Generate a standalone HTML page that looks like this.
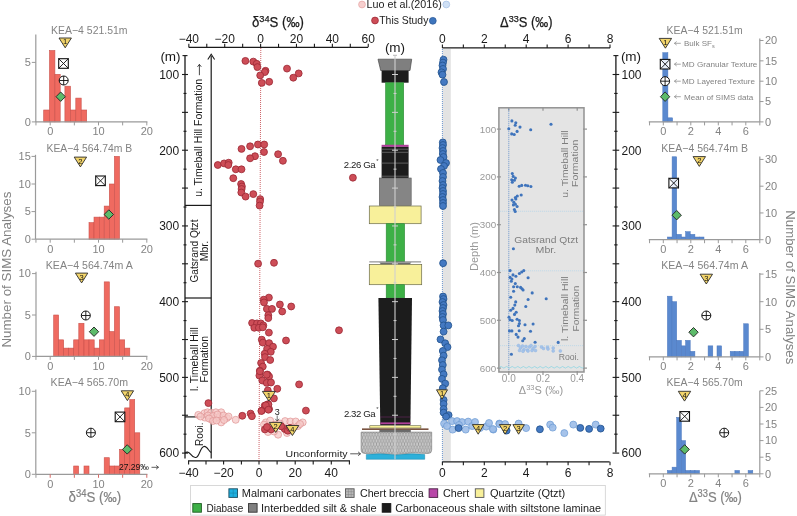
<!DOCTYPE html>
<html><head><meta charset="utf-8"><style>
html,body{margin:0;padding:0;background:#fff;}
svg{display:block;font-family:"Liberation Sans", sans-serif;will-change:transform;}
</style></head><body>
<svg width="797" height="516" viewBox="0 0 797 516">
<rect width="797" height="516" fill="#fff"/>
<rect x="43.70" y="110.00" width="5.80" height="11.90" fill="#EF6A60" stroke="#C9524C" stroke-width="0.6"/>
<rect x="49.50" y="50.50" width="5.40" height="71.40" fill="#EF6A60" stroke="#C9524C" stroke-width="0.6"/>
<rect x="54.90" y="74.30" width="5.30" height="47.60" fill="#EF6A60" stroke="#C9524C" stroke-width="0.6"/>
<rect x="64.90" y="86.20" width="5.60" height="35.70" fill="#EF6A60" stroke="#C9524C" stroke-width="0.6"/>
<rect x="70.50" y="110.00" width="5.30" height="11.90" fill="#EF6A60" stroke="#C9524C" stroke-width="0.6"/>
<rect x="75.80" y="98.10" width="5.40" height="23.80" fill="#EF6A60" stroke="#C9524C" stroke-width="0.6"/>
<rect x="81.20" y="110.00" width="5.50" height="11.90" fill="#EF6A60" stroke="#C9524C" stroke-width="0.6"/>
<line x1="35.8" y1="34.4" x2="35.8" y2="121.9" stroke="#9a9a9a" stroke-width="1.2"/>
<line x1="35.8" y1="121.9" x2="147.4" y2="121.9" stroke="#9a9a9a" stroke-width="1.2"/>
<line x1="31.799999999999997" y1="121.9" x2="35.8" y2="121.9" stroke="#9a9a9a" stroke-width="1"/>
<text x="30.8" y="125.7" font-size="11" text-anchor="end" fill="#838383">0</text>
<line x1="31.799999999999997" y1="62.400000000000006" x2="35.8" y2="62.400000000000006" stroke="#9a9a9a" stroke-width="1"/>
<text x="30.8" y="66.2" font-size="11" text-anchor="end" fill="#838383">5</text>
<line x1="35.9515" y1="121.9" x2="35.9515" y2="125.4" stroke="#9a9a9a" stroke-width="1"/>
<line x1="50.2" y1="121.9" x2="50.2" y2="125.4" stroke="#9a9a9a" stroke-width="1"/>
<line x1="74.35" y1="121.9" x2="74.35" y2="125.4" stroke="#9a9a9a" stroke-width="1"/>
<line x1="98.5" y1="121.9" x2="98.5" y2="125.4" stroke="#9a9a9a" stroke-width="1"/>
<line x1="122.65" y1="121.9" x2="122.65" y2="125.4" stroke="#9a9a9a" stroke-width="1"/>
<line x1="146.8" y1="121.9" x2="146.8" y2="125.4" stroke="#9a9a9a" stroke-width="1"/>
<text x="50.2" y="135.4" font-size="11" text-anchor="middle" fill="#838383">0</text>
<text x="98.5" y="135.4" font-size="11" text-anchor="middle" fill="#838383">10</text>
<text x="146.8" y="135.4" font-size="11" text-anchor="middle" fill="#838383">20</text>
<text x="89.3" y="34.3" font-size="10.8" text-anchor="middle" fill="#838383" textLength="76.5" lengthAdjust="spacingAndGlyphs">KEA&#8722;4 521.51m</text>
<polygon points="59.0,38.0 71.4,38.0 65.2,47.8" fill="#F3D56B" stroke="#2a2a2a" stroke-width="0.9" stroke-linejoin="miter"/>
<text x="65.2" y="44.468" font-size="7.6" text-anchor="middle" fill="#111">1</text>
<rect x="58.7" y="58.7" width="9.6" height="9.6" fill="#fff" fill-opacity="0.85" stroke="#111" stroke-width="1.1"/>
<path d="M58.7 58.7L68.3 68.3M68.3 58.7L58.7 68.3" stroke="#111" stroke-width="0.9"/>
<circle cx="63.7" cy="80.5" r="4.5" fill="#fff" stroke="#111" stroke-width="1"/>
<path d="M59.2 80.5H68.2M63.7 76.0V85.0" stroke="#111" stroke-width="0.9"/>
<polygon points="60.7,92.0 65.4,96.7 60.7,101.4 56.0,96.7" fill="#5DBB6A" stroke="#222" stroke-width="0.9"/>
<rect x="89.00" y="222.64" width="5.00" height="16.56" fill="#EF6A60" stroke="#C9524C" stroke-width="0.6"/>
<rect x="94.00" y="217.12" width="5.30" height="22.08" fill="#EF6A60" stroke="#C9524C" stroke-width="0.6"/>
<rect x="99.30" y="217.12" width="4.90" height="22.08" fill="#EF6A60" stroke="#C9524C" stroke-width="0.6"/>
<rect x="104.20" y="206.08" width="5.10" height="33.12" fill="#EF6A60" stroke="#C9524C" stroke-width="0.6"/>
<rect x="109.30" y="184.00" width="5.10" height="55.20" fill="#EF6A60" stroke="#C9524C" stroke-width="0.6"/>
<rect x="114.40" y="156.40" width="5.10" height="82.80" fill="#EF6A60" stroke="#C9524C" stroke-width="0.6"/>
<line x1="35.5" y1="154.8" x2="35.5" y2="239.2" stroke="#9a9a9a" stroke-width="1.2"/>
<line x1="35.5" y1="239.2" x2="147.4" y2="239.2" stroke="#9a9a9a" stroke-width="1.2"/>
<line x1="31.5" y1="239.2" x2="35.5" y2="239.2" stroke="#9a9a9a" stroke-width="1"/>
<text x="30.8" y="243.0" font-size="11" text-anchor="end" fill="#838383">0</text>
<line x1="31.5" y1="211.6" x2="35.5" y2="211.6" stroke="#9a9a9a" stroke-width="1"/>
<text x="30.8" y="215.4" font-size="11" text-anchor="end" fill="#838383">5</text>
<line x1="31.5" y1="184.0" x2="35.5" y2="184.0" stroke="#9a9a9a" stroke-width="1"/>
<text x="30.8" y="187.8" font-size="11" text-anchor="end" fill="#838383">10</text>
<line x1="31.5" y1="156.39999999999998" x2="35.5" y2="156.39999999999998" stroke="#9a9a9a" stroke-width="1"/>
<text x="30.8" y="160.2" font-size="11" text-anchor="end" fill="#838383">15</text>
<line x1="35.9515" y1="239.2" x2="35.9515" y2="242.7" stroke="#9a9a9a" stroke-width="1"/>
<line x1="50.2" y1="239.2" x2="50.2" y2="242.7" stroke="#9a9a9a" stroke-width="1"/>
<line x1="74.35" y1="239.2" x2="74.35" y2="242.7" stroke="#9a9a9a" stroke-width="1"/>
<line x1="98.5" y1="239.2" x2="98.5" y2="242.7" stroke="#9a9a9a" stroke-width="1"/>
<line x1="122.65" y1="239.2" x2="122.65" y2="242.7" stroke="#9a9a9a" stroke-width="1"/>
<line x1="146.8" y1="239.2" x2="146.8" y2="242.7" stroke="#9a9a9a" stroke-width="1"/>
<text x="50.2" y="252.7" font-size="11" text-anchor="middle" fill="#838383">0</text>
<text x="98.5" y="252.7" font-size="11" text-anchor="middle" fill="#838383">10</text>
<text x="146.8" y="252.7" font-size="11" text-anchor="middle" fill="#838383">20</text>
<text x="89.3" y="151.60000000000002" font-size="10.8" text-anchor="middle" fill="#838383" textLength="85.6" lengthAdjust="spacingAndGlyphs">KEA&#8722;4 564.74m B</text>
<polygon points="74.2,157.1 86.6,157.1 80.4,166.9" fill="#F3D56B" stroke="#2a2a2a" stroke-width="0.9" stroke-linejoin="miter"/>
<text x="80.4" y="163.56799999999998" font-size="7.6" text-anchor="middle" fill="#111">2</text>
<rect x="95.7" y="176.0" width="9.6" height="9.6" fill="#fff" fill-opacity="0.85" stroke="#111" stroke-width="1.1"/>
<path d="M95.7 176.0L105.3 185.6M105.3 176.0L95.7 185.6" stroke="#111" stroke-width="0.9"/>
<polygon points="108.8,209.8 113.5,214.5 108.8,219.2 104.1,214.5" fill="#5DBB6A" stroke="#222" stroke-width="0.9"/>
<rect x="53.70" y="315.00" width="4.90" height="41.40" fill="#EF6A60" stroke="#C9524C" stroke-width="0.6"/>
<rect x="58.60" y="339.84" width="5.10" height="16.56" fill="#EF6A60" stroke="#C9524C" stroke-width="0.6"/>
<rect x="63.70" y="348.12" width="4.90" height="8.28" fill="#EF6A60" stroke="#C9524C" stroke-width="0.6"/>
<rect x="68.60" y="348.12" width="5.10" height="8.28" fill="#EF6A60" stroke="#C9524C" stroke-width="0.6"/>
<rect x="73.70" y="339.84" width="5.10" height="16.56" fill="#EF6A60" stroke="#C9524C" stroke-width="0.6"/>
<rect x="78.80" y="323.28" width="5.20" height="33.12" fill="#EF6A60" stroke="#C9524C" stroke-width="0.6"/>
<rect x="84.00" y="339.84" width="5.00" height="16.56" fill="#EF6A60" stroke="#C9524C" stroke-width="0.6"/>
<rect x="89.00" y="339.84" width="5.20" height="16.56" fill="#EF6A60" stroke="#C9524C" stroke-width="0.6"/>
<rect x="94.20" y="348.12" width="5.10" height="8.28" fill="#EF6A60" stroke="#C9524C" stroke-width="0.6"/>
<rect x="99.30" y="339.84" width="4.90" height="16.56" fill="#EF6A60" stroke="#C9524C" stroke-width="0.6"/>
<rect x="104.20" y="281.88" width="5.10" height="74.52" fill="#EF6A60" stroke="#C9524C" stroke-width="0.6"/>
<rect x="109.30" y="331.56" width="5.10" height="24.84" fill="#EF6A60" stroke="#C9524C" stroke-width="0.6"/>
<rect x="114.40" y="306.72" width="5.10" height="49.68" fill="#EF6A60" stroke="#C9524C" stroke-width="0.6"/>
<rect x="119.50" y="339.84" width="5.20" height="16.56" fill="#EF6A60" stroke="#C9524C" stroke-width="0.6"/>
<rect x="124.70" y="348.12" width="5.10" height="8.28" fill="#EF6A60" stroke="#C9524C" stroke-width="0.6"/>
<line x1="36.0" y1="271.7" x2="36.0" y2="356.4" stroke="#9a9a9a" stroke-width="1.2"/>
<line x1="36.0" y1="356.4" x2="147.4" y2="356.4" stroke="#9a9a9a" stroke-width="1.2"/>
<line x1="32.0" y1="356.4" x2="36.0" y2="356.4" stroke="#9a9a9a" stroke-width="1"/>
<text x="30.8" y="360.2" font-size="11" text-anchor="end" fill="#838383">0</text>
<line x1="32.0" y1="315.0" x2="36.0" y2="315.0" stroke="#9a9a9a" stroke-width="1"/>
<text x="30.8" y="318.8" font-size="11" text-anchor="end" fill="#838383">5</text>
<line x1="32.0" y1="273.59999999999997" x2="36.0" y2="273.59999999999997" stroke="#9a9a9a" stroke-width="1"/>
<text x="30.8" y="277.4" font-size="11" text-anchor="end" fill="#838383">10</text>
<line x1="35.9515" y1="356.4" x2="35.9515" y2="359.9" stroke="#9a9a9a" stroke-width="1"/>
<line x1="50.2" y1="356.4" x2="50.2" y2="359.9" stroke="#9a9a9a" stroke-width="1"/>
<line x1="74.35" y1="356.4" x2="74.35" y2="359.9" stroke="#9a9a9a" stroke-width="1"/>
<line x1="98.5" y1="356.4" x2="98.5" y2="359.9" stroke="#9a9a9a" stroke-width="1"/>
<line x1="122.65" y1="356.4" x2="122.65" y2="359.9" stroke="#9a9a9a" stroke-width="1"/>
<line x1="146.8" y1="356.4" x2="146.8" y2="359.9" stroke="#9a9a9a" stroke-width="1"/>
<text x="50.2" y="369.9" font-size="11" text-anchor="middle" fill="#838383">0</text>
<text x="98.5" y="369.9" font-size="11" text-anchor="middle" fill="#838383">10</text>
<text x="146.8" y="369.9" font-size="11" text-anchor="middle" fill="#838383">20</text>
<text x="89.3" y="269.3" font-size="10.8" text-anchor="middle" fill="#838383" textLength="87" lengthAdjust="spacingAndGlyphs">KEA&#8722;4 564.74m A</text>
<polygon points="75.4,273.1 87.8,273.1 81.6,282.9" fill="#F3D56B" stroke="#2a2a2a" stroke-width="0.9" stroke-linejoin="miter"/>
<text x="81.6" y="279.56800000000004" font-size="7.6" text-anchor="middle" fill="#111">3</text>
<circle cx="85.8" cy="315.5" r="4.5" fill="#fff" stroke="#111" stroke-width="1"/>
<path d="M81.3 315.5H90.3M85.8 311.0V320.0" stroke="#111" stroke-width="0.9"/>
<polygon points="94.0,327.0 98.7,331.7 94.0,336.4 89.3,331.7" fill="#5DBB6A" stroke="#222" stroke-width="0.9"/>
<rect x="73.70" y="466.00" width="4.90" height="8.30" fill="#EF6A60" stroke="#C9524C" stroke-width="0.6"/>
<rect x="84.00" y="466.00" width="5.00" height="8.30" fill="#EF6A60" stroke="#C9524C" stroke-width="0.6"/>
<rect x="104.20" y="457.70" width="5.10" height="16.60" fill="#EF6A60" stroke="#C9524C" stroke-width="0.6"/>
<rect x="109.30" y="466.00" width="5.10" height="8.30" fill="#EF6A60" stroke="#C9524C" stroke-width="0.6"/>
<rect x="114.40" y="466.00" width="5.10" height="8.30" fill="#EF6A60" stroke="#C9524C" stroke-width="0.6"/>
<rect x="119.50" y="449.40" width="5.20" height="24.90" fill="#EF6A60" stroke="#C9524C" stroke-width="0.6"/>
<rect x="124.70" y="407.90" width="5.10" height="66.40" fill="#EF6A60" stroke="#C9524C" stroke-width="0.6"/>
<rect x="129.80" y="399.60" width="4.90" height="74.70" fill="#EF6A60" stroke="#C9524C" stroke-width="0.6"/>
<rect x="134.70" y="432.80" width="5.10" height="41.50" fill="#EF6A60" stroke="#C9524C" stroke-width="0.6"/>
<line x1="35.8" y1="389.4" x2="35.8" y2="474.3" stroke="#9a9a9a" stroke-width="1.2"/>
<line x1="35.8" y1="474.3" x2="147.4" y2="474.3" stroke="#9a9a9a" stroke-width="1.2"/>
<line x1="31.799999999999997" y1="474.3" x2="35.8" y2="474.3" stroke="#9a9a9a" stroke-width="1"/>
<text x="30.8" y="478.1" font-size="11" text-anchor="end" fill="#838383">0</text>
<line x1="31.799999999999997" y1="432.8" x2="35.8" y2="432.8" stroke="#9a9a9a" stroke-width="1"/>
<text x="30.8" y="436.6" font-size="11" text-anchor="end" fill="#838383">5</text>
<line x1="31.799999999999997" y1="391.3" x2="35.8" y2="391.3" stroke="#9a9a9a" stroke-width="1"/>
<text x="30.8" y="395.1" font-size="11" text-anchor="end" fill="#838383">10</text>
<line x1="35.9515" y1="474.3" x2="35.9515" y2="477.8" stroke="#9a9a9a" stroke-width="1"/>
<line x1="50.2" y1="474.3" x2="50.2" y2="477.8" stroke="#D86A66" stroke-width="1"/>
<line x1="74.35" y1="474.3" x2="74.35" y2="477.8" stroke="#D86A66" stroke-width="1"/>
<line x1="98.5" y1="474.3" x2="98.5" y2="477.8" stroke="#D86A66" stroke-width="1"/>
<line x1="122.65" y1="474.3" x2="122.65" y2="477.8" stroke="#D86A66" stroke-width="1"/>
<line x1="146.8" y1="474.3" x2="146.8" y2="477.8" stroke="#D86A66" stroke-width="1"/>
<text x="50.2" y="487.8" font-size="11" text-anchor="middle" fill="#838383">0</text>
<text x="98.5" y="487.8" font-size="11" text-anchor="middle" fill="#838383">10</text>
<text x="146.8" y="487.8" font-size="11" text-anchor="middle" fill="#838383">20</text>
<text x="89.3" y="386.2" font-size="10.8" text-anchor="middle" fill="#838383" textLength="77.4" lengthAdjust="spacingAndGlyphs">KEA&#8722;4 565.70m</text>
<polygon points="121.2,390.8 133.6,390.8 127.4,400.6" fill="#F3D56B" stroke="#2a2a2a" stroke-width="0.9" stroke-linejoin="miter"/>
<text x="127.4" y="397.26800000000003" font-size="7.6" text-anchor="middle" fill="#111">4</text>
<rect x="115.2" y="412.1" width="9.6" height="9.6" fill="#fff" fill-opacity="0.85" stroke="#111" stroke-width="1.1"/>
<path d="M115.2 412.1L124.8 421.7M124.8 412.1L115.2 421.7" stroke="#111" stroke-width="0.9"/>
<circle cx="90.9" cy="432.7" r="4.5" fill="#fff" stroke="#111" stroke-width="1"/>
<path d="M86.4 432.7H95.4M90.9 428.2V437.2" stroke="#111" stroke-width="0.9"/>
<polygon points="127.2,444.7 131.9,449.4 127.2,454.1 122.5,449.4" fill="#5DBB6A" stroke="#222" stroke-width="0.9"/>
<text x="118.9" y="470.3" font-size="8.6" text-anchor="start" fill="#111" textLength="30" lengthAdjust="spacingAndGlyphs">27.29&#8240;</text>
<path d="M151.5 467.3L158.5 467.3M156.1 465.4L158.5 467.3L156.1 469.2" fill="none" stroke="#333" stroke-width="0.8"/>
<text x="11.2" y="269.6" font-size="12.8" text-anchor="middle" fill="#838383" transform="rotate(-90 11.2 269.6)" textLength="156" lengthAdjust="spacingAndGlyphs">Number of SIMS Analyses</text>
<text x="94.8" y="502.3" font-size="14" text-anchor="middle" fill="#838383" textLength="52.5" lengthAdjust="spacingAndGlyphs" stroke="#838383" stroke-width="0.2">&#948;<tspan dy="-5" font-size="10">34</tspan><tspan dy="5">S (&#8240;)</tspan></text>
<line x1="188.7" y1="47.3" x2="368.0" y2="47.3" stroke="#1a1a1a" stroke-width="1.3"/>
<line x1="188.84000000000003" y1="47.3" x2="188.84000000000003" y2="43.8" stroke="#1a1a1a" stroke-width="1.1"/>
<line x1="206.78000000000003" y1="47.3" x2="206.78000000000003" y2="43.8" stroke="#1a1a1a" stroke-width="1.1"/>
<line x1="224.72000000000003" y1="47.3" x2="224.72000000000003" y2="43.8" stroke="#1a1a1a" stroke-width="1.1"/>
<line x1="242.66000000000003" y1="47.3" x2="242.66000000000003" y2="43.8" stroke="#1a1a1a" stroke-width="1.1"/>
<line x1="260.6" y1="47.3" x2="260.6" y2="43.8" stroke="#1a1a1a" stroke-width="1.1"/>
<line x1="278.54" y1="47.3" x2="278.54" y2="43.8" stroke="#1a1a1a" stroke-width="1.1"/>
<line x1="296.48" y1="47.3" x2="296.48" y2="43.8" stroke="#1a1a1a" stroke-width="1.1"/>
<line x1="314.42" y1="47.3" x2="314.42" y2="43.8" stroke="#1a1a1a" stroke-width="1.1"/>
<line x1="332.36" y1="47.3" x2="332.36" y2="43.8" stroke="#1a1a1a" stroke-width="1.1"/>
<line x1="350.3" y1="47.3" x2="350.3" y2="43.8" stroke="#1a1a1a" stroke-width="1.1"/>
<line x1="368.24" y1="47.3" x2="368.24" y2="43.8" stroke="#1a1a1a" stroke-width="1.1"/>
<text x="188.84000000000003" y="42.6" font-size="12" text-anchor="middle" fill="#1a1a1a">&#8722;40</text>
<text x="224.72000000000003" y="42.6" font-size="12" text-anchor="middle" fill="#1a1a1a">&#8722;20</text>
<text x="260.6" y="42.6" font-size="12" text-anchor="middle" fill="#1a1a1a">0</text>
<text x="296.48" y="42.6" font-size="12" text-anchor="middle" fill="#1a1a1a">20</text>
<text x="332.36" y="42.6" font-size="12" text-anchor="middle" fill="#1a1a1a">40</text>
<text x="368.24" y="42.6" font-size="12" text-anchor="middle" fill="#1a1a1a">60</text>
<text x="278" y="27.2" font-size="14" text-anchor="middle" fill="#1a1a1a" textLength="52" lengthAdjust="spacingAndGlyphs" stroke="#1a1a1a" stroke-width="0.25">&#948;<tspan dy="-5" font-size="9.8">34</tspan><tspan dy="5">S (&#8240;)</tspan></text>
<line x1="188.0" y1="460.9" x2="350.0" y2="460.9" stroke="#1a1a1a" stroke-width="1.3"/>
<line x1="188.6" y1="460.9" x2="188.6" y2="464.5" stroke="#1a1a1a" stroke-width="1.1"/>
<line x1="206" y1="460.9" x2="206" y2="464.5" stroke="#1a1a1a" stroke-width="1.1"/>
<line x1="223.6" y1="460.9" x2="223.6" y2="464.5" stroke="#1a1a1a" stroke-width="1.1"/>
<line x1="241.4" y1="460.9" x2="241.4" y2="464.5" stroke="#1a1a1a" stroke-width="1.1"/>
<line x1="259" y1="460.9" x2="259" y2="464.5" stroke="#1a1a1a" stroke-width="1.1"/>
<line x1="277.1" y1="460.9" x2="277.1" y2="464.5" stroke="#1a1a1a" stroke-width="1.1"/>
<line x1="295.2" y1="460.9" x2="295.2" y2="464.5" stroke="#1a1a1a" stroke-width="1.1"/>
<line x1="313.2" y1="460.9" x2="313.2" y2="464.5" stroke="#1a1a1a" stroke-width="1.1"/>
<line x1="331.3" y1="460.9" x2="331.3" y2="464.5" stroke="#1a1a1a" stroke-width="1.1"/>
<line x1="349.4" y1="460.9" x2="349.4" y2="464.5" stroke="#1a1a1a" stroke-width="1.1"/>
<text x="188.6" y="477.2" font-size="12" text-anchor="middle" fill="#1a1a1a">&#8722;40</text>
<text x="223.6" y="477.2" font-size="12" text-anchor="middle" fill="#1a1a1a">&#8722;20</text>
<text x="259" y="477.2" font-size="12" text-anchor="middle" fill="#1a1a1a">0</text>
<text x="295.2" y="477.2" font-size="12" text-anchor="middle" fill="#1a1a1a">20</text>
<text x="331.3" y="477.2" font-size="12" text-anchor="middle" fill="#1a1a1a">40</text>
<line x1="185.0" y1="55.4" x2="185.0" y2="458.4" stroke="#1a1a1a" stroke-width="1.3"/>
<line x1="182.5" y1="55.6" x2="187.5" y2="55.6" stroke="#1a1a1a" stroke-width="1.1"/>
<line x1="182" y1="74.5" x2="188" y2="74.5" stroke="#1a1a1a" stroke-width="1.1"/>
<line x1="183.5" y1="93.43" x2="186.5" y2="93.43" stroke="#1a1a1a" stroke-width="1.1"/>
<line x1="182" y1="112.36" x2="188" y2="112.36" stroke="#1a1a1a" stroke-width="1.1"/>
<line x1="183.5" y1="131.29" x2="186.5" y2="131.29" stroke="#1a1a1a" stroke-width="1.1"/>
<line x1="182" y1="150.22" x2="188" y2="150.22" stroke="#1a1a1a" stroke-width="1.1"/>
<line x1="183.5" y1="169.14999999999998" x2="186.5" y2="169.14999999999998" stroke="#1a1a1a" stroke-width="1.1"/>
<line x1="182" y1="188.07999999999998" x2="188" y2="188.07999999999998" stroke="#1a1a1a" stroke-width="1.1"/>
<line x1="183.5" y1="207.01" x2="186.5" y2="207.01" stroke="#1a1a1a" stroke-width="1.1"/>
<line x1="182" y1="225.94" x2="188" y2="225.94" stroke="#1a1a1a" stroke-width="1.1"/>
<line x1="183.5" y1="244.87" x2="186.5" y2="244.87" stroke="#1a1a1a" stroke-width="1.1"/>
<line x1="182" y1="263.79999999999995" x2="188" y2="263.79999999999995" stroke="#1a1a1a" stroke-width="1.1"/>
<line x1="183.5" y1="282.73" x2="186.5" y2="282.73" stroke="#1a1a1a" stroke-width="1.1"/>
<line x1="182" y1="301.65999999999997" x2="188" y2="301.65999999999997" stroke="#1a1a1a" stroke-width="1.1"/>
<line x1="183.5" y1="320.59000000000003" x2="186.5" y2="320.59000000000003" stroke="#1a1a1a" stroke-width="1.1"/>
<line x1="182" y1="339.52" x2="188" y2="339.52" stroke="#1a1a1a" stroke-width="1.1"/>
<line x1="183.5" y1="358.45" x2="186.5" y2="358.45" stroke="#1a1a1a" stroke-width="1.1"/>
<line x1="182" y1="377.38" x2="188" y2="377.38" stroke="#1a1a1a" stroke-width="1.1"/>
<line x1="183.5" y1="396.31" x2="186.5" y2="396.31" stroke="#1a1a1a" stroke-width="1.1"/>
<line x1="182" y1="415.24" x2="188" y2="415.24" stroke="#1a1a1a" stroke-width="1.1"/>
<line x1="183.5" y1="434.17" x2="186.5" y2="434.17" stroke="#1a1a1a" stroke-width="1.1"/>
<line x1="182" y1="453.09999999999997" x2="188" y2="453.09999999999997" stroke="#1a1a1a" stroke-width="1.1"/>
<text x="179.2" y="78.8" font-size="12" text-anchor="end" fill="#1a1a1a">100</text>
<text x="179.2" y="154.52" font-size="12" text-anchor="end" fill="#1a1a1a">200</text>
<text x="179.2" y="230.24" font-size="12" text-anchor="end" fill="#1a1a1a">300</text>
<text x="179.2" y="305.96" font-size="12" text-anchor="end" fill="#1a1a1a">400</text>
<text x="179.2" y="381.68" font-size="12" text-anchor="end" fill="#1a1a1a">500</text>
<text x="179.2" y="457.4" font-size="12" text-anchor="end" fill="#1a1a1a">600</text>
<text x="170.5" y="61.4" font-size="13.5" text-anchor="middle" fill="#1a1a1a">(m)</text>
<line x1="211.2" y1="56" x2="211.2" y2="458.4" stroke="#1a1a1a" stroke-width="1.2"/>
<path d="M207.8 59.5 L211.2 54.3 L214.6 59.5" fill="none" stroke="#1a1a1a" stroke-width="1.1"/>
<line x1="185" y1="205.4" x2="211.2" y2="205.4" stroke="#1a1a1a" stroke-width="1.2"/>
<line x1="185" y1="298.0" x2="211.2" y2="298.0" stroke="#1a1a1a" stroke-width="1.2"/>
<line x1="185" y1="416.9" x2="211.2" y2="416.9" stroke="#1a1a1a" stroke-width="1.2"/>
<text x="202.5" y="137.85" font-size="10" text-anchor="middle" fill="#1a1a1a" transform="rotate(-90 202.5 137.85)" textLength="118" lengthAdjust="spacingAndGlyphs">u. Timeball Hill Formation</text>
<path d="M199.4 75.2L199.4 64.4M197.5 66.8L199.4 64.4L201.3 66.8" fill="none" stroke="#1a1a1a" stroke-width="0.8"/>
<text x="198.2" y="251.0" font-size="10" text-anchor="middle" fill="#1a1a1a" transform="rotate(-90 198.2 251.0)" textLength="63" lengthAdjust="spacingAndGlyphs">Gatsrand Qtzt</text>
<text x="208.4" y="251.0" font-size="10" text-anchor="middle" fill="#1a1a1a" transform="rotate(-90 208.4 251.0)" textLength="20.4" lengthAdjust="spacingAndGlyphs">Mbr.</text>
<text x="197.6" y="359.2" font-size="10" text-anchor="middle" fill="#1a1a1a" transform="rotate(-90 197.6 359.2)" textLength="63.8" lengthAdjust="spacingAndGlyphs">l. Timeball Hill</text>
<text x="207.8" y="359.2" font-size="10" text-anchor="middle" fill="#1a1a1a" transform="rotate(-90 207.8 359.2)" textLength="46.4" lengthAdjust="spacingAndGlyphs">Formation</text>
<text x="203.3" y="434.2" font-size="10" text-anchor="middle" fill="#1a1a1a" transform="rotate(-90 203.3 434.2)">Rooi.</text>
<path d="M185 453.2 C186.5 451.6 188.5 451.6 190.5 454.2 C192.5 456.8 194.5 458 196.5 457.2 C199.5 456 200.5 446.4 204.4 446.4 C207.5 446.4 208.8 451.5 211.2 452.5" fill="none" stroke="#1a1a1a" stroke-width="1.1"/>
<line x1="260.8" y1="48" x2="259.0" y2="460.5" stroke="#C0393F" stroke-width="0.8" stroke-dasharray="1 1"/>
<circle cx="198.3" cy="414.9" r="3.5" fill="#F6C8C7" stroke="#DF9493" stroke-width="0.7" fill-opacity="0.75"/>
<circle cx="204.5" cy="413.2" r="3.5" fill="#F6C8C7" stroke="#DF9493" stroke-width="0.7" fill-opacity="0.75"/>
<circle cx="207.6" cy="412.3" r="3.5" fill="#F6C8C7" stroke="#DF9493" stroke-width="0.7" fill-opacity="0.75"/>
<circle cx="211.1" cy="412.7" r="3.5" fill="#F6C8C7" stroke="#DF9493" stroke-width="0.7" fill-opacity="0.75"/>
<circle cx="215.9" cy="412.3" r="3.5" fill="#F6C8C7" stroke="#DF9493" stroke-width="0.7" fill-opacity="0.75"/>
<circle cx="221.2" cy="412.3" r="3.5" fill="#F6C8C7" stroke="#DF9493" stroke-width="0.7" fill-opacity="0.75"/>
<circle cx="204.9" cy="417.6" r="3.5" fill="#F6C8C7" stroke="#DF9493" stroke-width="0.7" fill-opacity="0.75"/>
<circle cx="211.1" cy="419.3" r="3.5" fill="#F6C8C7" stroke="#DF9493" stroke-width="0.7" fill-opacity="0.75"/>
<circle cx="215.5" cy="418.0" r="3.5" fill="#F6C8C7" stroke="#DF9493" stroke-width="0.7" fill-opacity="0.75"/>
<circle cx="219.0" cy="417.1" r="3.5" fill="#F6C8C7" stroke="#DF9493" stroke-width="0.7" fill-opacity="0.75"/>
<circle cx="221.2" cy="422.4" r="3.5" fill="#F6C8C7" stroke="#DF9493" stroke-width="0.7" fill-opacity="0.75"/>
<circle cx="226.9" cy="418.0" r="3.5" fill="#F6C8C7" stroke="#DF9493" stroke-width="0.7" fill-opacity="0.75"/>
<circle cx="235.7" cy="419.8" r="3.5" fill="#F6C8C7" stroke="#DF9493" stroke-width="0.7" fill-opacity="0.75"/>
<circle cx="200.5" cy="416.5" r="3.5" fill="#F6C8C7" stroke="#DF9493" stroke-width="0.7" fill-opacity="0.75"/>
<circle cx="208.0" cy="415.5" r="3.5" fill="#F6C8C7" stroke="#DF9493" stroke-width="0.7" fill-opacity="0.75"/>
<circle cx="213.0" cy="416.0" r="3.5" fill="#F6C8C7" stroke="#DF9493" stroke-width="0.7" fill-opacity="0.75"/>
<circle cx="217.5" cy="414.5" r="3.5" fill="#F6C8C7" stroke="#DF9493" stroke-width="0.7" fill-opacity="0.75"/>
<circle cx="223.5" cy="415.5" r="3.5" fill="#F6C8C7" stroke="#DF9493" stroke-width="0.7" fill-opacity="0.75"/>
<circle cx="228.5" cy="416.5" r="3.5" fill="#F6C8C7" stroke="#DF9493" stroke-width="0.7" fill-opacity="0.75"/>
<circle cx="209.0" cy="418.5" r="3.5" fill="#F6C8C7" stroke="#DF9493" stroke-width="0.7" fill-opacity="0.75"/>
<circle cx="213.0" cy="421.0" r="3.5" fill="#F6C8C7" stroke="#DF9493" stroke-width="0.7" fill-opacity="0.75"/>
<circle cx="216.5" cy="420.5" r="3.5" fill="#F6C8C7" stroke="#DF9493" stroke-width="0.7" fill-opacity="0.75"/>
<circle cx="224.0" cy="420.0" r="3.5" fill="#F6C8C7" stroke="#DF9493" stroke-width="0.7" fill-opacity="0.75"/>
<circle cx="265.8" cy="422.4" r="3.5" fill="#F6C8C7" stroke="#DF9493" stroke-width="0.7" fill-opacity="0.75"/>
<circle cx="270.2" cy="420.6" r="3.5" fill="#F6C8C7" stroke="#DF9493" stroke-width="0.7" fill-opacity="0.75"/>
<circle cx="285.1" cy="421.1" r="3.5" fill="#F6C8C7" stroke="#DF9493" stroke-width="0.7" fill-opacity="0.75"/>
<circle cx="290.4" cy="421.5" r="3.5" fill="#F6C8C7" stroke="#DF9493" stroke-width="0.7" fill-opacity="0.75"/>
<circle cx="295.7" cy="421.5" r="3.5" fill="#F6C8C7" stroke="#DF9493" stroke-width="0.7" fill-opacity="0.75"/>
<circle cx="302.7" cy="422.4" r="3.5" fill="#F6C8C7" stroke="#DF9493" stroke-width="0.7" fill-opacity="0.75"/>
<circle cx="278.1" cy="434.7" r="3.5" fill="#F6C8C7" stroke="#DF9493" stroke-width="0.7" fill-opacity="0.75"/>
<circle cx="264.0" cy="424.6" r="3.5" fill="#F6C8C7" stroke="#DF9493" stroke-width="0.7" fill-opacity="0.75"/>
<circle cx="275.0" cy="424.5" r="3.5" fill="#F6C8C7" stroke="#DF9493" stroke-width="0.7" fill-opacity="0.75"/>
<circle cx="280.0" cy="423.5" r="3.5" fill="#F6C8C7" stroke="#DF9493" stroke-width="0.7" fill-opacity="0.75"/>
<circle cx="292.0" cy="427.5" r="3.5" fill="#F6C8C7" stroke="#DF9493" stroke-width="0.7" fill-opacity="0.75"/>
<circle cx="298.0" cy="426.0" r="3.5" fill="#F6C8C7" stroke="#DF9493" stroke-width="0.7" fill-opacity="0.75"/>
<circle cx="268.0" cy="432.0" r="3.5" fill="#F6C8C7" stroke="#DF9493" stroke-width="0.7" fill-opacity="0.75"/>
<circle cx="274.0" cy="431.5" r="3.5" fill="#F6C8C7" stroke="#DF9493" stroke-width="0.7" fill-opacity="0.75"/>
<circle cx="287.0" cy="433.0" r="3.5" fill="#F6C8C7" stroke="#DF9493" stroke-width="0.7" fill-opacity="0.75"/>
<circle cx="300.0" cy="424.0" r="3.5" fill="#F6C8C7" stroke="#DF9493" stroke-width="0.7" fill-opacity="0.75"/>
<circle cx="264.9" cy="429.4" r="3.45" fill="#CD4D57" stroke="#9E2A36" stroke-width="0.85"/>
<circle cx="271.1" cy="429.4" r="3.45" fill="#CD4D57" stroke="#9E2A36" stroke-width="0.85"/>
<circle cx="284.7" cy="429.0" r="3.45" fill="#CD4D57" stroke="#9E2A36" stroke-width="0.85"/>
<circle cx="287.8" cy="430.7" r="3.45" fill="#CD4D57" stroke="#9E2A36" stroke-width="0.85"/>
<circle cx="281.2" cy="426.3" r="3.45" fill="#CD4D57" stroke="#9E2A36" stroke-width="0.85"/>
<circle cx="267.0" cy="427.0" r="3.45" fill="#CD4D57" stroke="#9E2A36" stroke-width="0.85"/>
<circle cx="290.0" cy="428.0" r="3.45" fill="#CD4D57" stroke="#9E2A36" stroke-width="0.85"/>
<circle cx="245.4" cy="60.9" r="3.45" fill="#CD4D57" stroke="#9E2A36" stroke-width="0.85"/>
<circle cx="253.3" cy="61.6" r="3.45" fill="#CD4D57" stroke="#9E2A36" stroke-width="0.85"/>
<circle cx="256.7" cy="63.8" r="3.45" fill="#CD4D57" stroke="#9E2A36" stroke-width="0.85"/>
<circle cx="257.4" cy="67.1" r="3.45" fill="#CD4D57" stroke="#9E2A36" stroke-width="0.85"/>
<circle cx="265.5" cy="70.8" r="3.45" fill="#CD4D57" stroke="#9E2A36" stroke-width="0.85"/>
<circle cx="264.8" cy="72.1" r="3.45" fill="#CD4D57" stroke="#9E2A36" stroke-width="0.85"/>
<circle cx="260.2" cy="75.4" r="3.45" fill="#CD4D57" stroke="#9E2A36" stroke-width="0.85"/>
<circle cx="261.8" cy="82.9" r="3.45" fill="#CD4D57" stroke="#9E2A36" stroke-width="0.85"/>
<circle cx="269.2" cy="81.8" r="3.45" fill="#CD4D57" stroke="#9E2A36" stroke-width="0.85"/>
<circle cx="287.0" cy="68.6" r="3.45" fill="#CD4D57" stroke="#9E2A36" stroke-width="0.85"/>
<circle cx="298.7" cy="73.4" r="3.45" fill="#CD4D57" stroke="#9E2A36" stroke-width="0.85"/>
<circle cx="293.3" cy="77.7" r="3.45" fill="#CD4D57" stroke="#9E2A36" stroke-width="0.85"/>
<circle cx="241.5" cy="148.9" r="3.45" fill="#CD4D57" stroke="#9E2A36" stroke-width="0.85"/>
<circle cx="250.1" cy="146.3" r="3.45" fill="#CD4D57" stroke="#9E2A36" stroke-width="0.85"/>
<circle cx="257.9" cy="144.5" r="3.45" fill="#CD4D57" stroke="#9E2A36" stroke-width="0.85"/>
<circle cx="264.2" cy="144.5" r="3.45" fill="#CD4D57" stroke="#9E2A36" stroke-width="0.85"/>
<circle cx="264.0" cy="152.0" r="3.45" fill="#CD4D57" stroke="#9E2A36" stroke-width="0.85"/>
<circle cx="255.0" cy="156.2" r="3.45" fill="#CD4D57" stroke="#9E2A36" stroke-width="0.85"/>
<circle cx="250.1" cy="158.3" r="3.45" fill="#CD4D57" stroke="#9E2A36" stroke-width="0.85"/>
<circle cx="278.1" cy="154.2" r="3.45" fill="#CD4D57" stroke="#9E2A36" stroke-width="0.85"/>
<circle cx="282.9" cy="160.8" r="3.45" fill="#CD4D57" stroke="#9E2A36" stroke-width="0.85"/>
<circle cx="217.8" cy="165.0" r="3.45" fill="#CD4D57" stroke="#9E2A36" stroke-width="0.85"/>
<circle cx="224.1" cy="163.4" r="3.45" fill="#CD4D57" stroke="#9E2A36" stroke-width="0.85"/>
<circle cx="228.7" cy="162.7" r="3.45" fill="#CD4D57" stroke="#9E2A36" stroke-width="0.85"/>
<circle cx="228.3" cy="165.0" r="3.45" fill="#CD4D57" stroke="#9E2A36" stroke-width="0.85"/>
<circle cx="235.8" cy="169.3" r="3.45" fill="#CD4D57" stroke="#9E2A36" stroke-width="0.85"/>
<circle cx="241.5" cy="169.3" r="3.45" fill="#CD4D57" stroke="#9E2A36" stroke-width="0.85"/>
<circle cx="233.3" cy="178.2" r="3.45" fill="#CD4D57" stroke="#9E2A36" stroke-width="0.85"/>
<circle cx="241.1" cy="184.0" r="3.45" fill="#CD4D57" stroke="#9E2A36" stroke-width="0.85"/>
<circle cx="241.9" cy="186.5" r="3.45" fill="#CD4D57" stroke="#9E2A36" stroke-width="0.85"/>
<circle cx="241.6" cy="189.0" r="3.45" fill="#CD4D57" stroke="#9E2A36" stroke-width="0.85"/>
<circle cx="241.3" cy="192.5" r="3.45" fill="#CD4D57" stroke="#9E2A36" stroke-width="0.85"/>
<circle cx="245.6" cy="196.6" r="3.45" fill="#CD4D57" stroke="#9E2A36" stroke-width="0.85"/>
<circle cx="253.3" cy="194.1" r="3.45" fill="#CD4D57" stroke="#9E2A36" stroke-width="0.85"/>
<circle cx="260.2" cy="199.1" r="3.45" fill="#CD4D57" stroke="#9E2A36" stroke-width="0.85"/>
<circle cx="260.0" cy="201.6" r="3.45" fill="#CD4D57" stroke="#9E2A36" stroke-width="0.85"/>
<circle cx="259.6" cy="205.6" r="3.45" fill="#CD4D57" stroke="#9E2A36" stroke-width="0.85"/>
<circle cx="352.9" cy="177.7" r="3.45" fill="#CD4D57" stroke="#9E2A36" stroke-width="0.85"/>
<circle cx="258.1" cy="263.7" r="3.45" fill="#CD4D57" stroke="#9E2A36" stroke-width="0.85"/>
<circle cx="274.0" cy="262.8" r="3.45" fill="#CD4D57" stroke="#9E2A36" stroke-width="0.85"/>
<circle cx="268.9" cy="297.6" r="3.45" fill="#CD4D57" stroke="#9E2A36" stroke-width="0.85"/>
<circle cx="263.7" cy="299.7" r="3.45" fill="#CD4D57" stroke="#9E2A36" stroke-width="0.85"/>
<circle cx="264.0" cy="302.4" r="3.45" fill="#CD4D57" stroke="#9E2A36" stroke-width="0.85"/>
<circle cx="279.9" cy="304.5" r="3.45" fill="#CD4D57" stroke="#9E2A36" stroke-width="0.85"/>
<circle cx="291.2" cy="306.5" r="3.45" fill="#CD4D57" stroke="#9E2A36" stroke-width="0.85"/>
<circle cx="266.9" cy="308.9" r="3.45" fill="#CD4D57" stroke="#9E2A36" stroke-width="0.85"/>
<circle cx="272.0" cy="308.9" r="3.45" fill="#CD4D57" stroke="#9E2A36" stroke-width="0.85"/>
<circle cx="282.2" cy="311.5" r="3.45" fill="#CD4D57" stroke="#9E2A36" stroke-width="0.85"/>
<circle cx="268.3" cy="315.2" r="3.45" fill="#CD4D57" stroke="#9E2A36" stroke-width="0.85"/>
<circle cx="268.3" cy="318.1" r="3.45" fill="#CD4D57" stroke="#9E2A36" stroke-width="0.85"/>
<circle cx="252.1" cy="323.0" r="3.45" fill="#CD4D57" stroke="#9E2A36" stroke-width="0.85"/>
<circle cx="257.0" cy="323.4" r="3.45" fill="#CD4D57" stroke="#9E2A36" stroke-width="0.85"/>
<circle cx="260.8" cy="323.4" r="3.45" fill="#CD4D57" stroke="#9E2A36" stroke-width="0.85"/>
<circle cx="263.3" cy="325.4" r="3.45" fill="#CD4D57" stroke="#9E2A36" stroke-width="0.85"/>
<circle cx="254.3" cy="327.8" r="3.45" fill="#CD4D57" stroke="#9E2A36" stroke-width="0.85"/>
<circle cx="258.9" cy="327.8" r="3.45" fill="#CD4D57" stroke="#9E2A36" stroke-width="0.85"/>
<circle cx="262.8" cy="327.3" r="3.45" fill="#CD4D57" stroke="#9E2A36" stroke-width="0.85"/>
<circle cx="268.9" cy="332.6" r="3.45" fill="#CD4D57" stroke="#9E2A36" stroke-width="0.85"/>
<circle cx="339.0" cy="330.3" r="3.45" fill="#CD4D57" stroke="#9E2A36" stroke-width="0.85"/>
<circle cx="261.8" cy="339.7" r="3.45" fill="#CD4D57" stroke="#9E2A36" stroke-width="0.85"/>
<circle cx="262.8" cy="342.6" r="3.45" fill="#CD4D57" stroke="#9E2A36" stroke-width="0.85"/>
<circle cx="286.0" cy="340.5" r="3.45" fill="#CD4D57" stroke="#9E2A36" stroke-width="0.85"/>
<circle cx="269.1" cy="343.1" r="3.45" fill="#CD4D57" stroke="#9E2A36" stroke-width="0.85"/>
<circle cx="273.0" cy="346.7" r="3.45" fill="#CD4D57" stroke="#9E2A36" stroke-width="0.85"/>
<circle cx="267.1" cy="348.9" r="3.45" fill="#CD4D57" stroke="#9E2A36" stroke-width="0.85"/>
<circle cx="270.8" cy="351.8" r="3.45" fill="#CD4D57" stroke="#9E2A36" stroke-width="0.85"/>
<circle cx="264.7" cy="353.7" r="3.45" fill="#CD4D57" stroke="#9E2A36" stroke-width="0.85"/>
<circle cx="265.0" cy="357.1" r="3.45" fill="#CD4D57" stroke="#9E2A36" stroke-width="0.85"/>
<circle cx="270.2" cy="360.0" r="3.45" fill="#CD4D57" stroke="#9E2A36" stroke-width="0.85"/>
<circle cx="261.1" cy="363.0" r="3.45" fill="#CD4D57" stroke="#9E2A36" stroke-width="0.85"/>
<circle cx="262.8" cy="366.6" r="3.45" fill="#CD4D57" stroke="#9E2A36" stroke-width="0.85"/>
<circle cx="259.9" cy="370.7" r="3.45" fill="#CD4D57" stroke="#9E2A36" stroke-width="0.85"/>
<circle cx="259.4" cy="375.6" r="3.45" fill="#CD4D57" stroke="#9E2A36" stroke-width="0.85"/>
<circle cx="267.6" cy="374.6" r="3.45" fill="#CD4D57" stroke="#9E2A36" stroke-width="0.85"/>
<circle cx="269.1" cy="376.5" r="3.45" fill="#CD4D57" stroke="#9E2A36" stroke-width="0.85"/>
<circle cx="259.9" cy="371.3" r="3.45" fill="#CD4D57" stroke="#9E2A36" stroke-width="0.85"/>
<circle cx="266.7" cy="374.7" r="3.45" fill="#CD4D57" stroke="#9E2A36" stroke-width="0.85"/>
<circle cx="262.3" cy="380.5" r="3.45" fill="#CD4D57" stroke="#9E2A36" stroke-width="0.85"/>
<circle cx="266.7" cy="382.9" r="3.45" fill="#CD4D57" stroke="#9E2A36" stroke-width="0.85"/>
<circle cx="271.0" cy="382.5" r="3.45" fill="#CD4D57" stroke="#9E2A36" stroke-width="0.85"/>
<circle cx="277.3" cy="388.8" r="3.45" fill="#CD4D57" stroke="#9E2A36" stroke-width="0.85"/>
<circle cx="299.1" cy="384.4" r="3.45" fill="#CD4D57" stroke="#9E2A36" stroke-width="0.85"/>
<circle cx="273.9" cy="398.4" r="3.45" fill="#CD4D57" stroke="#9E2A36" stroke-width="0.85"/>
<circle cx="267.9" cy="404.3" r="3.45" fill="#CD4D57" stroke="#9E2A36" stroke-width="0.85"/>
<circle cx="264.7" cy="405.7" r="3.45" fill="#CD4D57" stroke="#9E2A36" stroke-width="0.85"/>
<circle cx="269.1" cy="409.1" r="3.45" fill="#CD4D57" stroke="#9E2A36" stroke-width="0.85"/>
<circle cx="261.8" cy="410.6" r="3.45" fill="#CD4D57" stroke="#9E2A36" stroke-width="0.85"/>
<circle cx="305.9" cy="410.6" r="3.45" fill="#CD4D57" stroke="#9E2A36" stroke-width="0.85"/>
<circle cx="268.4" cy="404.4" r="3.45" fill="#CD4D57" stroke="#9E2A36" stroke-width="0.85"/>
<circle cx="265.8" cy="405.3" r="3.45" fill="#CD4D57" stroke="#9E2A36" stroke-width="0.85"/>
<circle cx="261.4" cy="411.0" r="3.45" fill="#CD4D57" stroke="#9E2A36" stroke-width="0.85"/>
<circle cx="268.4" cy="409.7" r="3.45" fill="#CD4D57" stroke="#9E2A36" stroke-width="0.85"/>
<circle cx="208.4" cy="403.1" r="3.45" fill="#CD4D57" stroke="#9E2A36" stroke-width="0.85"/>
<circle cx="242.3" cy="415.8" r="3.45" fill="#CD4D57" stroke="#9E2A36" stroke-width="0.85"/>
<circle cx="250.6" cy="413.6" r="3.45" fill="#CD4D57" stroke="#9E2A36" stroke-width="0.85"/>
<circle cx="251.9" cy="416.2" r="3.45" fill="#CD4D57" stroke="#9E2A36" stroke-width="0.85"/>
<circle cx="267.8" cy="390.4" r="3.45" fill="#CD4D57" stroke="#9E2A36" stroke-width="0.85"/>
<polygon points="262.4,391.4 275.4,391.4 268.9,401.1" fill="#F3D56B" stroke="#2a2a2a" stroke-width="0.9" stroke-linejoin="miter"/>
<text x="268.9" y="397.80199999999996" font-size="7.6" text-anchor="middle" fill="#111">1</text>
<polygon points="269.3,422.4 282.1,422.4 275.7,432.4" fill="#F3D56B" stroke="#2a2a2a" stroke-width="0.9" stroke-linejoin="miter"/>
<text x="275.7" y="429.0" font-size="7.6" text-anchor="middle" fill="#111">2</text>
<polygon points="286.0,425.5 298.8,425.5 292.4,435.5" fill="#F3D56B" stroke="#2a2a2a" stroke-width="0.9" stroke-linejoin="miter"/>
<text x="292.4" y="432.1" font-size="7.6" text-anchor="middle" fill="#111">4</text>
<text x="277.2" y="414.5" font-size="9" text-anchor="middle" fill="#222">3</text>
<path d="M277.2 415.5V421 M275.2 418.8 L277.2 421 L279.2 418.8" fill="none" stroke="#333" stroke-width="0.7"/>
<text x="343.8" y="168.3" font-size="9.6" text-anchor="start" fill="#222" letter-spacing="-0.4">2.26 Ga</text>
<text x="377.5" y="162.5" font-size="6" text-anchor="middle" fill="#444">*</text>
<text x="343.9" y="417.2" font-size="9.6" text-anchor="start" fill="#222" letter-spacing="-0.4">2.32 Ga</text>
<text x="377.5" y="411.4" font-size="6" text-anchor="middle" fill="#444">*</text>
<text x="285.6" y="457.3" font-size="9.8" text-anchor="start" fill="#222" textLength="62" lengthAdjust="spacingAndGlyphs">Unconformity</text>
<path d="M350.2 453.8L360.5 453.8M358.1 451.9L360.5 453.8L358.1 455.7" fill="none" stroke="#333" stroke-width="0.8"/>
<circle cx="362.0" cy="4.5" r="3.4" fill="#F6CFCE" stroke="#E9A9A8" stroke-width="0.8"/>
<text x="404.2" y="8.2" font-size="10.5" text-anchor="middle" fill="#222" textLength="75.3" lengthAdjust="spacingAndGlyphs">Luo et al.(2016)</text>
<circle cx="446.3" cy="4.5" r="3.4" fill="#CFE0F5" stroke="#A9C3E6" stroke-width="0.8"/>
<circle cx="375.0" cy="20.5" r="3.4" fill="#CD4D57" stroke="#9E2A36" stroke-width="0.8"/>
<text x="403.8" y="24.2" font-size="10.5" text-anchor="middle" fill="#222" textLength="49.1" lengthAdjust="spacingAndGlyphs">This Study</text>
<circle cx="432.8" cy="20.8" r="3.4" fill="#3E75BD" stroke="#2C5A9A" stroke-width="0.8"/>
<text x="395" y="51.8" font-size="13.5" text-anchor="middle" fill="#1a1a1a">(m)</text>
<polygon points="378,59.2 411.7,59.2 410,70.5 380.7,70.5" fill="#7f7f7f" stroke="#4a4a4a" stroke-width="0.7"/>
<rect x="381.60" y="70.50" width="27.00" height="12.20" fill="#1c1c1c" stroke="none" stroke-width="0"/>
<rect x="385.60" y="82.70" width="18.10" height="62.10" fill="#3DB046" stroke="#2E8A35" stroke-width="0.6"/>
<rect x="381.60" y="144.80" width="27.00" height="2.10" fill="#B0409A" stroke="none" stroke-width="0"/>
<rect x="381.60" y="146.90" width="27.00" height="31.10" fill="#1c1c1c" stroke="none" stroke-width="0"/>
<line x1="381.6" y1="149.2" x2="408.6" y2="149.2" stroke="#8a8a8a" stroke-width="0.6"/>
<line x1="381.6" y1="152.3" x2="408.6" y2="152.3" stroke="#8a8a8a" stroke-width="0.6"/>
<line x1="381.6" y1="163.1" x2="408.6" y2="163.1" stroke="#8a8a8a" stroke-width="0.6"/>
<line x1="381.6" y1="176.2" x2="408.6" y2="176.2" stroke="#8a8a8a" stroke-width="0.6"/>
<rect x="379.30" y="178.00" width="31.90" height="27.40" fill="#858585" stroke="#5a5a5a" stroke-width="0.6"/>
<rect x="369.30" y="206.00" width="51.80" height="17.70" fill="#F8F09A" stroke="#6a6a4a" stroke-width="0.7"/>
<rect x="386.20" y="223.70" width="18.40" height="38.00" fill="#3DB046" stroke="#2E8A35" stroke-width="0.6"/>
<line x1="369.3" y1="261.9" x2="421.1" y2="261.9" stroke="#7a7a7a" stroke-width="1.0"/>
<polygon points="379.4,262.4 411.4,262.4 409.5,264.4 381,264.4" fill="#6e6e6e"/>
<rect x="369.30" y="264.40" width="52.40" height="20.30" fill="#F8F09A" stroke="#6a6a4a" stroke-width="0.7"/>
<rect x="386.20" y="284.70" width="18.40" height="13.20" fill="#3DB046" stroke="#2E8A35" stroke-width="0.6"/>
<polygon points="378.4,297.9 412,297.9 410.4,425.3 380.3,425.3" fill="#1c1c1c"/>
<line x1="380.3" y1="417" x2="410.4" y2="417" stroke="#8a2c7e" stroke-width="0.45"/>
<rect x="380.30" y="422.40" width="30.10" height="1.80" fill="#B0409A" stroke="none" stroke-width="0"/>
<rect x="369.80" y="425.70" width="51.10" height="2.30" fill="#F8F09A" stroke="#6a6a4a" stroke-width="0.6"/>
<rect x="362.00" y="428.50" width="66.50" height="1.30" fill="#5a2a12" stroke="none" stroke-width="0"/>
<rect x="379.40" y="429.70" width="31.40" height="2.40" fill="#6a6a6a" stroke="none" stroke-width="0"/>
<defs><pattern id="brec" x="361.1" y="432.1" width="5.6" height="6.4" patternUnits="userSpaceOnUse"><rect width="5.6" height="6.4" fill="#c6c6c6"/><path d="M0 1.6 L1.4 0.4 L2.8 1.6 L4.2 0.4 L5.6 1.6 M0 1.6 V3.2 M2.8 1.6 V3.2 M5.6 1.6 V3.2 M0 3.2 L1.4 4.4 L2.8 3.2 L4.2 4.4 L5.6 3.2 M1.4 4.4 V6.4 M4.2 4.4 V6.4 M1.4 0 V0.4 M4.2 0 V0.4" fill="none" stroke="#8a8a8a" stroke-width="0.6"/></pattern></defs>
<path d="M361.1 432.1 H431.7 V450 Q431.7 453.5 428 453.5 Q412 452 396 454.5 Q380 452.5 365 453.5 Q361.1 453.5 361.1 450 Z" fill="url(#brec)" stroke="#777" stroke-width="0.6"/>
<path d="M366.3 454.5 Q380 453 396 455 Q412 453 424.7 454.5 V459.3 H366.3 Z" fill="#2DB0DA" stroke="#1d86a8" stroke-width="0.5"/>
<line x1="395" y1="55.3" x2="395" y2="459.5" stroke="#d0d0d0" stroke-width="1.1"/>
<path d="M393 55.3 H397" stroke="#bbb" stroke-width="1"/>
<line x1="392" y1="74.5" x2="398" y2="74.5" stroke="#cfcfcf" stroke-width="1"/>
<line x1="393.5" y1="93.43" x2="396.5" y2="93.43" stroke="#cfcfcf" stroke-width="1"/>
<line x1="392" y1="112.36" x2="398" y2="112.36" stroke="#cfcfcf" stroke-width="1"/>
<line x1="393.5" y1="131.29" x2="396.5" y2="131.29" stroke="#cfcfcf" stroke-width="1"/>
<line x1="392" y1="150.22" x2="398" y2="150.22" stroke="#cfcfcf" stroke-width="1"/>
<line x1="393.5" y1="169.14999999999998" x2="396.5" y2="169.14999999999998" stroke="#cfcfcf" stroke-width="1"/>
<line x1="392" y1="188.07999999999998" x2="398" y2="188.07999999999998" stroke="#cfcfcf" stroke-width="1"/>
<line x1="393.5" y1="207.01" x2="396.5" y2="207.01" stroke="#cfcfcf" stroke-width="1"/>
<line x1="392" y1="225.94" x2="398" y2="225.94" stroke="#cfcfcf" stroke-width="1"/>
<line x1="393.5" y1="244.87" x2="396.5" y2="244.87" stroke="#cfcfcf" stroke-width="1"/>
<line x1="392" y1="263.79999999999995" x2="398" y2="263.79999999999995" stroke="#cfcfcf" stroke-width="1"/>
<line x1="393.5" y1="282.73" x2="396.5" y2="282.73" stroke="#cfcfcf" stroke-width="1"/>
<line x1="392" y1="301.65999999999997" x2="398" y2="301.65999999999997" stroke="#cfcfcf" stroke-width="1"/>
<line x1="393.5" y1="320.59000000000003" x2="396.5" y2="320.59000000000003" stroke="#cfcfcf" stroke-width="1"/>
<line x1="392" y1="339.52" x2="398" y2="339.52" stroke="#cfcfcf" stroke-width="1"/>
<line x1="393.5" y1="358.45" x2="396.5" y2="358.45" stroke="#cfcfcf" stroke-width="1"/>
<line x1="392" y1="377.38" x2="398" y2="377.38" stroke="#cfcfcf" stroke-width="1"/>
<line x1="393.5" y1="396.31" x2="396.5" y2="396.31" stroke="#cfcfcf" stroke-width="1"/>
<line x1="392" y1="415.24" x2="398" y2="415.24" stroke="#cfcfcf" stroke-width="1"/>
<line x1="393.5" y1="434.17" x2="396.5" y2="434.17" stroke="#cfcfcf" stroke-width="1"/>
<rect x="442.40" y="49.00" width="8.40" height="412.00" fill="#e3e3e3" stroke="none" stroke-width="0"/>
<line x1="442.4" y1="49" x2="442.4" y2="461.8" stroke="#4a7fc8" stroke-width="0.8" stroke-dasharray="1 1"/>
<line x1="442.4" y1="47.9" x2="610.0" y2="47.9" stroke="#1a1a1a" stroke-width="1.3"/>
<line x1="442.4" y1="47.9" x2="442.4" y2="44.4" stroke="#1a1a1a" stroke-width="1.1"/>
<line x1="463.34999999999997" y1="47.9" x2="463.34999999999997" y2="44.4" stroke="#1a1a1a" stroke-width="1.1"/>
<line x1="484.29999999999995" y1="47.9" x2="484.29999999999995" y2="44.4" stroke="#1a1a1a" stroke-width="1.1"/>
<line x1="505.25" y1="47.9" x2="505.25" y2="44.4" stroke="#1a1a1a" stroke-width="1.1"/>
<line x1="526.1999999999999" y1="47.9" x2="526.1999999999999" y2="44.4" stroke="#1a1a1a" stroke-width="1.1"/>
<line x1="547.15" y1="47.9" x2="547.15" y2="44.4" stroke="#1a1a1a" stroke-width="1.1"/>
<line x1="568.0999999999999" y1="47.9" x2="568.0999999999999" y2="44.4" stroke="#1a1a1a" stroke-width="1.1"/>
<line x1="589.05" y1="47.9" x2="589.05" y2="44.4" stroke="#1a1a1a" stroke-width="1.1"/>
<line x1="610.0" y1="47.9" x2="610.0" y2="44.4" stroke="#1a1a1a" stroke-width="1.1"/>
<text x="442.4" y="42.8" font-size="12" text-anchor="middle" fill="#1a1a1a">0</text>
<text x="484.29999999999995" y="42.8" font-size="12" text-anchor="middle" fill="#1a1a1a">2</text>
<text x="526.1999999999999" y="42.8" font-size="12" text-anchor="middle" fill="#1a1a1a">4</text>
<text x="568.0999999999999" y="42.8" font-size="12" text-anchor="middle" fill="#1a1a1a">6</text>
<text x="610.0" y="42.8" font-size="12" text-anchor="middle" fill="#1a1a1a">8</text>
<text x="526.3" y="27.2" font-size="14" text-anchor="middle" fill="#1a1a1a" textLength="52.5" lengthAdjust="spacingAndGlyphs" stroke="#1a1a1a" stroke-width="0.25">&#916;<tspan dy="-5" font-size="9.8">33</tspan><tspan dy="5">S (&#8240;)</tspan></text>
<line x1="442.4" y1="461.8" x2="609.6" y2="461.8" stroke="#1a1a1a" stroke-width="1.3"/>
<line x1="442.4" y1="461.8" x2="442.4" y2="465.3" stroke="#1a1a1a" stroke-width="1.1"/>
<line x1="463.34999999999997" y1="461.8" x2="463.34999999999997" y2="465.3" stroke="#1a1a1a" stroke-width="1.1"/>
<line x1="484.29999999999995" y1="461.8" x2="484.29999999999995" y2="465.3" stroke="#1a1a1a" stroke-width="1.1"/>
<line x1="505.25" y1="461.8" x2="505.25" y2="465.3" stroke="#1a1a1a" stroke-width="1.1"/>
<line x1="526.1999999999999" y1="461.8" x2="526.1999999999999" y2="465.3" stroke="#1a1a1a" stroke-width="1.1"/>
<line x1="547.15" y1="461.8" x2="547.15" y2="465.3" stroke="#1a1a1a" stroke-width="1.1"/>
<line x1="568.0999999999999" y1="461.8" x2="568.0999999999999" y2="465.3" stroke="#1a1a1a" stroke-width="1.1"/>
<line x1="589.05" y1="461.8" x2="589.05" y2="465.3" stroke="#1a1a1a" stroke-width="1.1"/>
<line x1="610.0" y1="461.8" x2="610.0" y2="465.3" stroke="#1a1a1a" stroke-width="1.1"/>
<text x="442.4" y="477.0" font-size="12" text-anchor="middle" fill="#1a1a1a">0</text>
<text x="484.29999999999995" y="477.0" font-size="12" text-anchor="middle" fill="#1a1a1a">2</text>
<text x="526.1999999999999" y="477.0" font-size="12" text-anchor="middle" fill="#1a1a1a">4</text>
<text x="568.0999999999999" y="477.0" font-size="12" text-anchor="middle" fill="#1a1a1a">6</text>
<text x="610.0" y="477.0" font-size="12" text-anchor="middle" fill="#1a1a1a">8</text>
<line x1="615.9" y1="55.4" x2="615.9" y2="452.5" stroke="#1a1a1a" stroke-width="1.3"/>
<line x1="613.4" y1="55.6" x2="618.4" y2="55.6" stroke="#1a1a1a" stroke-width="1.1"/>
<line x1="612.6" y1="74.5" x2="619.2" y2="74.5" stroke="#1a1a1a" stroke-width="1.1"/>
<line x1="614.2" y1="93.43" x2="617.6" y2="93.43" stroke="#1a1a1a" stroke-width="1.1"/>
<line x1="612.6" y1="112.36" x2="619.2" y2="112.36" stroke="#1a1a1a" stroke-width="1.1"/>
<line x1="614.2" y1="131.29" x2="617.6" y2="131.29" stroke="#1a1a1a" stroke-width="1.1"/>
<line x1="612.6" y1="150.22" x2="619.2" y2="150.22" stroke="#1a1a1a" stroke-width="1.1"/>
<line x1="614.2" y1="169.14999999999998" x2="617.6" y2="169.14999999999998" stroke="#1a1a1a" stroke-width="1.1"/>
<line x1="612.6" y1="188.07999999999998" x2="619.2" y2="188.07999999999998" stroke="#1a1a1a" stroke-width="1.1"/>
<line x1="614.2" y1="207.01" x2="617.6" y2="207.01" stroke="#1a1a1a" stroke-width="1.1"/>
<line x1="612.6" y1="225.94" x2="619.2" y2="225.94" stroke="#1a1a1a" stroke-width="1.1"/>
<line x1="614.2" y1="244.87" x2="617.6" y2="244.87" stroke="#1a1a1a" stroke-width="1.1"/>
<line x1="612.6" y1="263.79999999999995" x2="619.2" y2="263.79999999999995" stroke="#1a1a1a" stroke-width="1.1"/>
<line x1="614.2" y1="282.73" x2="617.6" y2="282.73" stroke="#1a1a1a" stroke-width="1.1"/>
<line x1="612.6" y1="301.65999999999997" x2="619.2" y2="301.65999999999997" stroke="#1a1a1a" stroke-width="1.1"/>
<line x1="614.2" y1="320.59000000000003" x2="617.6" y2="320.59000000000003" stroke="#1a1a1a" stroke-width="1.1"/>
<line x1="612.6" y1="339.52" x2="619.2" y2="339.52" stroke="#1a1a1a" stroke-width="1.1"/>
<line x1="614.2" y1="358.45" x2="617.6" y2="358.45" stroke="#1a1a1a" stroke-width="1.1"/>
<line x1="612.6" y1="377.38" x2="619.2" y2="377.38" stroke="#1a1a1a" stroke-width="1.1"/>
<line x1="614.2" y1="396.31" x2="617.6" y2="396.31" stroke="#1a1a1a" stroke-width="1.1"/>
<line x1="612.6" y1="415.24" x2="619.2" y2="415.24" stroke="#1a1a1a" stroke-width="1.1"/>
<line x1="614.2" y1="434.17" x2="617.6" y2="434.17" stroke="#1a1a1a" stroke-width="1.1"/>
<line x1="612.6" y1="453.09999999999997" x2="619.2" y2="453.09999999999997" stroke="#1a1a1a" stroke-width="1.1"/>
<text x="621.5" y="78.8" font-size="12" text-anchor="start" fill="#1a1a1a">100</text>
<text x="621.5" y="154.52" font-size="12" text-anchor="start" fill="#1a1a1a">200</text>
<text x="621.5" y="230.24" font-size="12" text-anchor="start" fill="#1a1a1a">300</text>
<text x="621.5" y="305.96" font-size="12" text-anchor="start" fill="#1a1a1a">400</text>
<text x="621.5" y="381.68" font-size="12" text-anchor="start" fill="#1a1a1a">500</text>
<text x="621.5" y="457.4" font-size="12" text-anchor="start" fill="#1a1a1a">600</text>
<text x="631" y="61.4" font-size="13.5" text-anchor="middle" fill="#1a1a1a">(m)</text>
<rect x="498.90" y="107.80" width="85.10" height="264.20" fill="#e4e4e4" stroke="#929292" stroke-width="1.5"/>
<line x1="508.8" y1="107.8" x2="508.8" y2="110.8" stroke="#929292" stroke-width="1.2"/>
<line x1="508.8" y1="371.0" x2="508.8" y2="375.0" stroke="#929292" stroke-width="1.2"/>
<text x="508.8" y="382.2" font-size="10" text-anchor="middle" fill="#999">0.0</text>
<line x1="543.0" y1="107.8" x2="543.0" y2="110.8" stroke="#929292" stroke-width="1.2"/>
<line x1="543.0" y1="371.0" x2="543.0" y2="375.0" stroke="#929292" stroke-width="1.2"/>
<text x="543.0" y="382.2" font-size="10" text-anchor="middle" fill="#999">0.2</text>
<line x1="577.2" y1="107.8" x2="577.2" y2="110.8" stroke="#929292" stroke-width="1.2"/>
<line x1="577.2" y1="371.0" x2="577.2" y2="375.0" stroke="#929292" stroke-width="1.2"/>
<text x="577.2" y="382.2" font-size="10" text-anchor="middle" fill="#999">0.4</text>
<line x1="496.9" y1="129.1" x2="500.9" y2="129.1" stroke="#929292" stroke-width="1.2"/>
<line x1="583.0" y1="129.1" x2="587.0" y2="129.1" stroke="#929292" stroke-width="1.2"/>
<text x="496.2" y="132.6" font-size="9.8" text-anchor="end" fill="#999">100</text>
<line x1="496.9" y1="176.89999999999998" x2="500.9" y2="176.89999999999998" stroke="#929292" stroke-width="1.2"/>
<line x1="583.0" y1="176.89999999999998" x2="587.0" y2="176.89999999999998" stroke="#929292" stroke-width="1.2"/>
<text x="496.2" y="180.39999999999998" font-size="9.8" text-anchor="end" fill="#999">200</text>
<line x1="496.9" y1="224.7" x2="500.9" y2="224.7" stroke="#929292" stroke-width="1.2"/>
<line x1="583.0" y1="224.7" x2="587.0" y2="224.7" stroke="#929292" stroke-width="1.2"/>
<text x="496.2" y="228.2" font-size="9.8" text-anchor="end" fill="#999">300</text>
<line x1="496.9" y1="272.5" x2="500.9" y2="272.5" stroke="#929292" stroke-width="1.2"/>
<line x1="583.0" y1="272.5" x2="587.0" y2="272.5" stroke="#929292" stroke-width="1.2"/>
<text x="496.2" y="276.0" font-size="9.8" text-anchor="end" fill="#999">400</text>
<line x1="496.9" y1="320.29999999999995" x2="500.9" y2="320.29999999999995" stroke="#929292" stroke-width="1.2"/>
<line x1="583.0" y1="320.29999999999995" x2="587.0" y2="320.29999999999995" stroke="#929292" stroke-width="1.2"/>
<text x="496.2" y="323.79999999999995" font-size="9.8" text-anchor="end" fill="#999">500</text>
<line x1="496.9" y1="368.1" x2="500.9" y2="368.1" stroke="#929292" stroke-width="1.2"/>
<line x1="583.0" y1="368.1" x2="587.0" y2="368.1" stroke="#929292" stroke-width="1.2"/>
<text x="496.2" y="371.6" font-size="9.8" text-anchor="end" fill="#999">600</text>
<text x="541" y="394" font-size="11" text-anchor="middle" fill="#999">&#916;<tspan dy="-3.8" font-size="7.5">33</tspan><tspan dy="3.8">S (&#8240;)</tspan></text>
<text x="477.8" y="246.5" font-size="11" text-anchor="middle" fill="#999" transform="rotate(-90 477.8 246.5)">Depth (m)</text>
<line x1="499.9" y1="211.3" x2="583.0" y2="211.3" stroke="#b5d6ea" stroke-width="0.8" stroke-dasharray="1 1"/>
<line x1="499.9" y1="270.8" x2="583.0" y2="270.8" stroke="#b5d6ea" stroke-width="0.8" stroke-dasharray="1 1"/>
<line x1="499.9" y1="345.6" x2="583.0" y2="345.6" stroke="#b5d6ea" stroke-width="0.8" stroke-dasharray="1 1"/>
<line x1="508.8" y1="108.8" x2="508.8" y2="371.0" stroke="#4a7fc8" stroke-width="0.8" stroke-dasharray="1 1"/>
<path d="M499.6 367.3 q1.4 -1.6 2.8 0 t2.8 0 q1.4 -1.6 2.8 0 t2.8 0 q1.4 -1.6 2.8 0 t2.8 0 q1.4 -1.6 2.8 0 t2.8 0 q1.4 -1.6 2.8 0 t2.8 0 q1.4 -1.6 2.8 0 t2.8 0 q1.4 -1.6 2.8 0 t2.8 0 q1.4 -1.6 2.8 0 t2.8 0 q1.4 -1.6 2.8 0 t2.8 0 q1.4 -1.6 2.8 0 t2.8 0 q1.4 -1.6 2.8 0 t2.8 0 q1.4 -1.6 2.8 0 t2.8 0 q1.4 -1.6 2.8 0 t2.8 0 q1.4 -1.6 2.8 0 t2.8 0 q1.4 -1.6 2.8 0 t2.8 0" fill="none" stroke="#7fd3e3" stroke-width="0.7" clip-path="url(#insclip)"/>
<clipPath id="insclip"><rect x="498.9" y="107.8" width="85.10000000000002" height="264.2"/></clipPath>
<text x="568.1" y="164.0" font-size="9.5" text-anchor="middle" fill="#7d7d7d" transform="rotate(-90 568.1 164.0)" textLength="67.3" lengthAdjust="spacingAndGlyphs">u. Timeball Hill</text>
<text x="578.5" y="163.3" font-size="9.5" text-anchor="middle" fill="#7d7d7d" transform="rotate(-90 578.5 163.3)" textLength="47.2" lengthAdjust="spacingAndGlyphs">Formation</text>
<text x="546.2" y="242.6" font-size="9.5" text-anchor="middle" fill="#7d7d7d" textLength="63.9" lengthAdjust="spacingAndGlyphs">Gatsrand Qtzt</text>
<text x="545.9" y="253.3" font-size="9.5" text-anchor="middle" fill="#7d7d7d" textLength="20.6" lengthAdjust="spacingAndGlyphs">Mbr.</text>
<text x="568.3" y="308.7" font-size="9.5" text-anchor="middle" fill="#7d7d7d" transform="rotate(-90 568.3 308.7)" textLength="64.5" lengthAdjust="spacingAndGlyphs">l. Timeball Hill</text>
<text x="578.6" y="308.6" font-size="9.5" text-anchor="middle" fill="#7d7d7d" transform="rotate(-90 578.6 308.6)" textLength="46" lengthAdjust="spacingAndGlyphs">Formation</text>
<text x="568.8" y="360.2" font-size="9.5" text-anchor="middle" fill="#7d7d7d" textLength="20.2" lengthAdjust="spacingAndGlyphs">Rooi.</text>
<circle cx="518.5" cy="345.5" r="1.5" fill="#A4C3EA" stroke="#8fb2e0" stroke-width="0.4"/>
<circle cx="520.5" cy="348.0" r="1.5" fill="#A4C3EA" stroke="#8fb2e0" stroke-width="0.4"/>
<circle cx="522.5" cy="346.0" r="1.5" fill="#A4C3EA" stroke="#8fb2e0" stroke-width="0.4"/>
<circle cx="524.0" cy="349.5" r="1.5" fill="#A4C3EA" stroke="#8fb2e0" stroke-width="0.4"/>
<circle cx="526.0" cy="346.5" r="1.5" fill="#A4C3EA" stroke="#8fb2e0" stroke-width="0.4"/>
<circle cx="527.5" cy="350.0" r="1.5" fill="#A4C3EA" stroke="#8fb2e0" stroke-width="0.4"/>
<circle cx="529.5" cy="347.0" r="1.5" fill="#A4C3EA" stroke="#8fb2e0" stroke-width="0.4"/>
<circle cx="531.0" cy="345.5" r="1.5" fill="#A4C3EA" stroke="#8fb2e0" stroke-width="0.4"/>
<circle cx="533.0" cy="348.5" r="1.5" fill="#A4C3EA" stroke="#8fb2e0" stroke-width="0.4"/>
<circle cx="535.0" cy="346.5" r="1.5" fill="#A4C3EA" stroke="#8fb2e0" stroke-width="0.4"/>
<circle cx="519.5" cy="350.5" r="1.5" fill="#A4C3EA" stroke="#8fb2e0" stroke-width="0.4"/>
<circle cx="523.0" cy="351.2" r="1.5" fill="#A4C3EA" stroke="#8fb2e0" stroke-width="0.4"/>
<circle cx="528.0" cy="351.0" r="1.5" fill="#A4C3EA" stroke="#8fb2e0" stroke-width="0.4"/>
<circle cx="532.0" cy="350.5" r="1.5" fill="#A4C3EA" stroke="#8fb2e0" stroke-width="0.4"/>
<circle cx="535.5" cy="350.5" r="1.5" fill="#A4C3EA" stroke="#8fb2e0" stroke-width="0.4"/>
<circle cx="541.5" cy="347.0" r="1.5" fill="#A4C3EA" stroke="#8fb2e0" stroke-width="0.4"/>
<circle cx="543.5" cy="348.5" r="1.5" fill="#A4C3EA" stroke="#8fb2e0" stroke-width="0.4"/>
<circle cx="547.5" cy="347.2" r="1.5" fill="#A4C3EA" stroke="#8fb2e0" stroke-width="0.4"/>
<circle cx="548.0" cy="349.0" r="1.5" fill="#A4C3EA" stroke="#8fb2e0" stroke-width="0.4"/>
<circle cx="553.2" cy="348.0" r="1.5" fill="#A4C3EA" stroke="#8fb2e0" stroke-width="0.4"/>
<circle cx="553.2" cy="350.9" r="1.5" fill="#A4C3EA" stroke="#8fb2e0" stroke-width="0.4"/>
<circle cx="560.3" cy="350.9" r="1.5" fill="#A4C3EA" stroke="#8fb2e0" stroke-width="0.4"/>
<circle cx="511.9" cy="120.9" r="1.55" fill="#3F74BC" stroke="none" stroke-width="0"/>
<circle cx="515.8" cy="122.7" r="1.55" fill="#3F74BC" stroke="none" stroke-width="0"/>
<circle cx="515.2" cy="125.2" r="1.55" fill="#3F74BC" stroke="none" stroke-width="0"/>
<circle cx="520.0" cy="127.1" r="1.55" fill="#3F74BC" stroke="none" stroke-width="0"/>
<circle cx="508.8" cy="128.7" r="1.55" fill="#3F74BC" stroke="none" stroke-width="0"/>
<circle cx="511.7" cy="133.9" r="1.55" fill="#3F74BC" stroke="none" stroke-width="0"/>
<circle cx="514.2" cy="134.5" r="1.55" fill="#3F74BC" stroke="none" stroke-width="0"/>
<circle cx="517.1" cy="131.4" r="1.55" fill="#3F74BC" stroke="none" stroke-width="0"/>
<circle cx="530.7" cy="129.7" r="1.55" fill="#3F74BC" stroke="none" stroke-width="0"/>
<circle cx="551.0" cy="124.2" r="1.55" fill="#3F74BC" stroke="none" stroke-width="0"/>
<circle cx="512.3" cy="173.5" r="1.55" fill="#3F74BC" stroke="none" stroke-width="0"/>
<circle cx="513.2" cy="176.4" r="1.55" fill="#3F74BC" stroke="none" stroke-width="0"/>
<circle cx="515.4" cy="178.1" r="1.55" fill="#3F74BC" stroke="none" stroke-width="0"/>
<circle cx="511.7" cy="179.7" r="1.55" fill="#3F74BC" stroke="none" stroke-width="0"/>
<circle cx="514.4" cy="180.3" r="1.55" fill="#3F74BC" stroke="none" stroke-width="0"/>
<circle cx="512.3" cy="182.3" r="1.55" fill="#3F74BC" stroke="none" stroke-width="0"/>
<circle cx="519.2" cy="186.3" r="1.55" fill="#3F74BC" stroke="none" stroke-width="0"/>
<circle cx="521.7" cy="185.4" r="1.55" fill="#3F74BC" stroke="none" stroke-width="0"/>
<circle cx="525.5" cy="185.2" r="1.55" fill="#3F74BC" stroke="none" stroke-width="0"/>
<circle cx="527.8" cy="185.8" r="1.55" fill="#3F74BC" stroke="none" stroke-width="0"/>
<circle cx="530.9" cy="186.5" r="1.55" fill="#3F74BC" stroke="none" stroke-width="0"/>
<circle cx="521.2" cy="195.0" r="1.55" fill="#3F74BC" stroke="none" stroke-width="0"/>
<circle cx="517.3" cy="196.0" r="1.55" fill="#3F74BC" stroke="none" stroke-width="0"/>
<circle cx="515.4" cy="197.5" r="1.55" fill="#3F74BC" stroke="none" stroke-width="0"/>
<circle cx="512.0" cy="200.1" r="1.55" fill="#3F74BC" stroke="none" stroke-width="0"/>
<circle cx="515.8" cy="198.9" r="1.55" fill="#3F74BC" stroke="none" stroke-width="0"/>
<circle cx="513.9" cy="202.3" r="1.55" fill="#3F74BC" stroke="none" stroke-width="0"/>
<circle cx="515.4" cy="204.3" r="1.55" fill="#3F74BC" stroke="none" stroke-width="0"/>
<circle cx="513.4" cy="204.9" r="1.55" fill="#3F74BC" stroke="none" stroke-width="0"/>
<circle cx="517.1" cy="206.5" r="1.55" fill="#3F74BC" stroke="none" stroke-width="0"/>
<circle cx="514.4" cy="209.6" r="1.55" fill="#3F74BC" stroke="none" stroke-width="0"/>
<circle cx="515.2" cy="211.5" r="1.55" fill="#3F74BC" stroke="none" stroke-width="0"/>
<circle cx="513.4" cy="248.8" r="1.55" fill="#3F74BC" stroke="none" stroke-width="0"/>
<circle cx="510.1" cy="270.6" r="1.55" fill="#3F74BC" stroke="none" stroke-width="0"/>
<circle cx="513.0" cy="274.9" r="1.55" fill="#3F74BC" stroke="none" stroke-width="0"/>
<circle cx="515.9" cy="276.3" r="1.55" fill="#3F74BC" stroke="none" stroke-width="0"/>
<circle cx="510.1" cy="277.4" r="1.55" fill="#3F74BC" stroke="none" stroke-width="0"/>
<circle cx="511.9" cy="279.0" r="1.55" fill="#3F74BC" stroke="none" stroke-width="0"/>
<circle cx="511.3" cy="281.3" r="1.55" fill="#3F74BC" stroke="none" stroke-width="0"/>
<circle cx="519.4" cy="273.5" r="1.55" fill="#3F74BC" stroke="none" stroke-width="0"/>
<circle cx="521.7" cy="272.0" r="1.55" fill="#3F74BC" stroke="none" stroke-width="0"/>
<circle cx="523.8" cy="270.6" r="1.55" fill="#3F74BC" stroke="none" stroke-width="0"/>
<circle cx="528.1" cy="277.8" r="1.55" fill="#3F74BC" stroke="none" stroke-width="0"/>
<circle cx="515.3" cy="283.6" r="1.55" fill="#3F74BC" stroke="none" stroke-width="0"/>
<circle cx="513.6" cy="286.7" r="1.55" fill="#3F74BC" stroke="none" stroke-width="0"/>
<circle cx="517.3" cy="286.7" r="1.55" fill="#3F74BC" stroke="none" stroke-width="0"/>
<circle cx="520.6" cy="287.4" r="1.55" fill="#3F74BC" stroke="none" stroke-width="0"/>
<circle cx="522.0" cy="288.8" r="1.55" fill="#3F74BC" stroke="none" stroke-width="0"/>
<circle cx="523.1" cy="290.0" r="1.55" fill="#3F74BC" stroke="none" stroke-width="0"/>
<circle cx="513.6" cy="291.2" r="1.55" fill="#3F74BC" stroke="none" stroke-width="0"/>
<circle cx="532.2" cy="292.9" r="1.55" fill="#3F74BC" stroke="none" stroke-width="0"/>
<circle cx="510.7" cy="297.2" r="1.55" fill="#3F74BC" stroke="none" stroke-width="0"/>
<circle cx="528.1" cy="299.5" r="1.55" fill="#3F74BC" stroke="none" stroke-width="0"/>
<circle cx="546.2" cy="298.7" r="1.55" fill="#3F74BC" stroke="none" stroke-width="0"/>
<circle cx="515.7" cy="301.9" r="1.55" fill="#3F74BC" stroke="none" stroke-width="0"/>
<circle cx="514.8" cy="305.1" r="1.55" fill="#3F74BC" stroke="none" stroke-width="0"/>
<circle cx="525.8" cy="306.5" r="1.55" fill="#3F74BC" stroke="none" stroke-width="0"/>
<circle cx="513.0" cy="308.4" r="1.55" fill="#3F74BC" stroke="none" stroke-width="0"/>
<circle cx="510.7" cy="310.3" r="1.55" fill="#3F74BC" stroke="none" stroke-width="0"/>
<circle cx="516.2" cy="312.3" r="1.55" fill="#3F74BC" stroke="none" stroke-width="0"/>
<circle cx="514.5" cy="314.4" r="1.55" fill="#3F74BC" stroke="none" stroke-width="0"/>
<circle cx="509.0" cy="317.3" r="1.55" fill="#3F74BC" stroke="none" stroke-width="0"/>
<circle cx="510.1" cy="319.7" r="1.55" fill="#3F74BC" stroke="none" stroke-width="0"/>
<circle cx="512.2" cy="320.5" r="1.55" fill="#3F74BC" stroke="none" stroke-width="0"/>
<circle cx="517.1" cy="319.3" r="1.55" fill="#3F74BC" stroke="none" stroke-width="0"/>
<circle cx="519.4" cy="320.5" r="1.55" fill="#3F74BC" stroke="none" stroke-width="0"/>
<circle cx="519.4" cy="323.5" r="1.55" fill="#3F74BC" stroke="none" stroke-width="0"/>
<circle cx="518.5" cy="325.8" r="1.55" fill="#3F74BC" stroke="none" stroke-width="0"/>
<circle cx="525.0" cy="324.7" r="1.55" fill="#3F74BC" stroke="none" stroke-width="0"/>
<circle cx="533.1" cy="324.0" r="1.55" fill="#3F74BC" stroke="none" stroke-width="0"/>
<circle cx="509.5" cy="330.9" r="1.55" fill="#3F74BC" stroke="none" stroke-width="0"/>
<circle cx="511.9" cy="330.9" r="1.55" fill="#3F74BC" stroke="none" stroke-width="0"/>
<circle cx="519.2" cy="330.7" r="1.55" fill="#3F74BC" stroke="none" stroke-width="0"/>
<circle cx="530.5" cy="331.3" r="1.55" fill="#3F74BC" stroke="none" stroke-width="0"/>
<circle cx="516.2" cy="334.4" r="1.55" fill="#3F74BC" stroke="none" stroke-width="0"/>
<circle cx="518.0" cy="337.1" r="1.55" fill="#3F74BC" stroke="none" stroke-width="0"/>
<circle cx="524.3" cy="338.6" r="1.55" fill="#3F74BC" stroke="none" stroke-width="0"/>
<circle cx="522.7" cy="340.8" r="1.55" fill="#3F74BC" stroke="none" stroke-width="0"/>
<circle cx="535.1" cy="342.3" r="1.55" fill="#3F74BC" stroke="none" stroke-width="0"/>
<circle cx="558.2" cy="342.4" r="1.55" fill="#3F74BC" stroke="none" stroke-width="0"/>
<circle cx="511.4" cy="354.3" r="1.55" fill="#3F74BC" stroke="none" stroke-width="0"/>
<circle cx="443.5" cy="59.7" r="3.45" fill="#4479C2" stroke="#24548F" stroke-width="0.85"/>
<circle cx="443.0" cy="62.6" r="3.45" fill="#4479C2" stroke="#24548F" stroke-width="0.85"/>
<circle cx="442.5" cy="65.5" r="3.45" fill="#4479C2" stroke="#24548F" stroke-width="0.85"/>
<circle cx="443.0" cy="68.9" r="3.45" fill="#4479C2" stroke="#24548F" stroke-width="0.85"/>
<circle cx="441.5" cy="72.3" r="3.45" fill="#4479C2" stroke="#24548F" stroke-width="0.85"/>
<circle cx="442.5" cy="74.7" r="3.45" fill="#4479C2" stroke="#24548F" stroke-width="0.85"/>
<circle cx="444.0" cy="82.0" r="3.45" fill="#4479C2" stroke="#24548F" stroke-width="0.85"/>
<circle cx="442.8" cy="142.4" r="3.45" fill="#4479C2" stroke="#24548F" stroke-width="0.85"/>
<circle cx="443.0" cy="145.0" r="3.45" fill="#4479C2" stroke="#24548F" stroke-width="0.85"/>
<circle cx="442.5" cy="148.0" r="3.45" fill="#4479C2" stroke="#24548F" stroke-width="0.85"/>
<circle cx="443.0" cy="151.0" r="3.45" fill="#4479C2" stroke="#24548F" stroke-width="0.85"/>
<circle cx="442.8" cy="154.0" r="3.45" fill="#4479C2" stroke="#24548F" stroke-width="0.85"/>
<circle cx="443.5" cy="157.0" r="3.45" fill="#4479C2" stroke="#24548F" stroke-width="0.85"/>
<circle cx="440.5" cy="160.0" r="3.45" fill="#4479C2" stroke="#24548F" stroke-width="0.85"/>
<circle cx="446.0" cy="163.0" r="3.45" fill="#4479C2" stroke="#24548F" stroke-width="0.85"/>
<circle cx="444.0" cy="166.0" r="3.45" fill="#4479C2" stroke="#24548F" stroke-width="0.85"/>
<circle cx="441.0" cy="169.0" r="3.45" fill="#4479C2" stroke="#24548F" stroke-width="0.85"/>
<circle cx="443.0" cy="173.0" r="3.45" fill="#4479C2" stroke="#24548F" stroke-width="0.85"/>
<circle cx="443.0" cy="177.0" r="3.45" fill="#4479C2" stroke="#24548F" stroke-width="0.85"/>
<circle cx="442.5" cy="181.0" r="3.45" fill="#4479C2" stroke="#24548F" stroke-width="0.85"/>
<circle cx="443.0" cy="185.0" r="3.45" fill="#4479C2" stroke="#24548F" stroke-width="0.85"/>
<circle cx="442.5" cy="188.0" r="3.45" fill="#4479C2" stroke="#24548F" stroke-width="0.85"/>
<circle cx="443.0" cy="191.0" r="3.45" fill="#4479C2" stroke="#24548F" stroke-width="0.85"/>
<circle cx="443.0" cy="194.0" r="3.45" fill="#4479C2" stroke="#24548F" stroke-width="0.85"/>
<circle cx="442.5" cy="197.0" r="3.45" fill="#4479C2" stroke="#24548F" stroke-width="0.85"/>
<circle cx="443.0" cy="200.0" r="3.45" fill="#4479C2" stroke="#24548F" stroke-width="0.85"/>
<circle cx="443.0" cy="203.0" r="3.45" fill="#4479C2" stroke="#24548F" stroke-width="0.85"/>
<circle cx="443.0" cy="206.0" r="3.45" fill="#4479C2" stroke="#24548F" stroke-width="0.85"/>
<circle cx="443.1" cy="263.2" r="3.45" fill="#4479C2" stroke="#24548F" stroke-width="0.85"/>
<circle cx="443.0" cy="296.5" r="3.45" fill="#4479C2" stroke="#24548F" stroke-width="0.85"/>
<circle cx="443.5" cy="299.0" r="3.45" fill="#4479C2" stroke="#24548F" stroke-width="0.85"/>
<circle cx="442.5" cy="302.0" r="3.45" fill="#4479C2" stroke="#24548F" stroke-width="0.85"/>
<circle cx="443.5" cy="305.0" r="3.45" fill="#4479C2" stroke="#24548F" stroke-width="0.85"/>
<circle cx="443.0" cy="308.0" r="3.45" fill="#4479C2" stroke="#24548F" stroke-width="0.85"/>
<circle cx="442.5" cy="311.0" r="3.45" fill="#4479C2" stroke="#24548F" stroke-width="0.85"/>
<circle cx="443.0" cy="314.0" r="3.45" fill="#4479C2" stroke="#24548F" stroke-width="0.85"/>
<circle cx="442.5" cy="317.0" r="3.45" fill="#4479C2" stroke="#24548F" stroke-width="0.85"/>
<circle cx="443.0" cy="320.0" r="3.45" fill="#4479C2" stroke="#24548F" stroke-width="0.85"/>
<circle cx="443.6" cy="325.4" r="3.45" fill="#4479C2" stroke="#24548F" stroke-width="0.85"/>
<circle cx="448.3" cy="325.4" r="3.45" fill="#4479C2" stroke="#24548F" stroke-width="0.85"/>
<circle cx="443.6" cy="331.6" r="3.45" fill="#4479C2" stroke="#24548F" stroke-width="0.85"/>
<circle cx="440.5" cy="339.4" r="3.45" fill="#4479C2" stroke="#24548F" stroke-width="0.85"/>
<circle cx="445.2" cy="343.3" r="3.45" fill="#4479C2" stroke="#24548F" stroke-width="0.85"/>
<circle cx="447.5" cy="347.1" r="3.45" fill="#4479C2" stroke="#24548F" stroke-width="0.85"/>
<circle cx="442.8" cy="351.0" r="3.45" fill="#4479C2" stroke="#24548F" stroke-width="0.85"/>
<circle cx="443.6" cy="355.7" r="3.45" fill="#4479C2" stroke="#24548F" stroke-width="0.85"/>
<circle cx="442.0" cy="360.3" r="3.45" fill="#4479C2" stroke="#24548F" stroke-width="0.85"/>
<circle cx="442.8" cy="365.0" r="3.45" fill="#4479C2" stroke="#24548F" stroke-width="0.85"/>
<circle cx="442.0" cy="369.6" r="3.45" fill="#4479C2" stroke="#24548F" stroke-width="0.85"/>
<circle cx="443.6" cy="374.3" r="3.45" fill="#4479C2" stroke="#24548F" stroke-width="0.85"/>
<circle cx="442.0" cy="378.9" r="3.45" fill="#4479C2" stroke="#24548F" stroke-width="0.85"/>
<circle cx="445.2" cy="383.6" r="3.45" fill="#4479C2" stroke="#24548F" stroke-width="0.85"/>
<circle cx="442.8" cy="388.2" r="3.45" fill="#4479C2" stroke="#24548F" stroke-width="0.85"/>
<circle cx="443.6" cy="400.0" r="3.45" fill="#4479C2" stroke="#24548F" stroke-width="0.85"/>
<circle cx="443.6" cy="404.0" r="3.45" fill="#4479C2" stroke="#24548F" stroke-width="0.85"/>
<circle cx="443.6" cy="409.0" r="3.45" fill="#4479C2" stroke="#24548F" stroke-width="0.85"/>
<circle cx="443.6" cy="412.6" r="3.45" fill="#4479C2" stroke="#24548F" stroke-width="0.85"/>
<circle cx="448.6" cy="415.1" r="3.45" fill="#4479C2" stroke="#24548F" stroke-width="0.85"/>
<circle cx="446.1" cy="416.6" r="3.45" fill="#4479C2" stroke="#24548F" stroke-width="0.85"/>
<circle cx="444.1" cy="423.6" r="3.5" fill="#9CBDE8" stroke="#6A9AD3" stroke-width="0.7" fill-opacity="0.9"/>
<circle cx="452.1" cy="421.1" r="3.5" fill="#9CBDE8" stroke="#6A9AD3" stroke-width="0.7" fill-opacity="0.9"/>
<circle cx="457.1" cy="421.1" r="3.5" fill="#9CBDE8" stroke="#6A9AD3" stroke-width="0.7" fill-opacity="0.9"/>
<circle cx="462.1" cy="422.1" r="3.5" fill="#9CBDE8" stroke="#6A9AD3" stroke-width="0.7" fill-opacity="0.9"/>
<circle cx="468.2" cy="421.6" r="3.5" fill="#9CBDE8" stroke="#6A9AD3" stroke-width="0.7" fill-opacity="0.9"/>
<circle cx="452.6" cy="429.6" r="3.5" fill="#9CBDE8" stroke="#6A9AD3" stroke-width="0.7" fill-opacity="0.9"/>
<circle cx="465.7" cy="429.6" r="3.5" fill="#9CBDE8" stroke="#6A9AD3" stroke-width="0.7" fill-opacity="0.9"/>
<circle cx="472.2" cy="426.1" r="3.5" fill="#9CBDE8" stroke="#6A9AD3" stroke-width="0.7" fill-opacity="0.9"/>
<circle cx="486.2" cy="426.6" r="3.5" fill="#9CBDE8" stroke="#6A9AD3" stroke-width="0.7" fill-opacity="0.9"/>
<circle cx="493.3" cy="429.6" r="3.5" fill="#9CBDE8" stroke="#6A9AD3" stroke-width="0.7" fill-opacity="0.9"/>
<circle cx="499.3" cy="423.6" r="3.5" fill="#9CBDE8" stroke="#6A9AD3" stroke-width="0.7" fill-opacity="0.9"/>
<circle cx="493.0" cy="429.1" r="3.5" fill="#9CBDE8" stroke="#6A9AD3" stroke-width="0.7" fill-opacity="0.9"/>
<circle cx="499.5" cy="424.1" r="3.5" fill="#9CBDE8" stroke="#6A9AD3" stroke-width="0.7" fill-opacity="0.9"/>
<circle cx="505.1" cy="424.1" r="3.5" fill="#9CBDE8" stroke="#6A9AD3" stroke-width="0.7" fill-opacity="0.9"/>
<circle cx="518.6" cy="423.6" r="3.5" fill="#9CBDE8" stroke="#6A9AD3" stroke-width="0.7" fill-opacity="0.9"/>
<circle cx="526.1" cy="428.1" r="3.5" fill="#9CBDE8" stroke="#6A9AD3" stroke-width="0.7" fill-opacity="0.9"/>
<circle cx="550.2" cy="424.6" r="3.5" fill="#9CBDE8" stroke="#6A9AD3" stroke-width="0.7" fill-opacity="0.9"/>
<circle cx="552.7" cy="427.6" r="3.5" fill="#9CBDE8" stroke="#6A9AD3" stroke-width="0.7" fill-opacity="0.9"/>
<circle cx="564.3" cy="433.1" r="3.5" fill="#9CBDE8" stroke="#6A9AD3" stroke-width="0.7" fill-opacity="0.9"/>
<circle cx="573.3" cy="424.6" r="3.5" fill="#9CBDE8" stroke="#6A9AD3" stroke-width="0.7" fill-opacity="0.9"/>
<circle cx="595.7" cy="424.6" r="3.5" fill="#9CBDE8" stroke="#6A9AD3" stroke-width="0.7" fill-opacity="0.9"/>
<circle cx="447.0" cy="426.0" r="3.5" fill="#9CBDE8" stroke="#6A9AD3" stroke-width="0.7" fill-opacity="0.9"/>
<circle cx="459.0" cy="425.0" r="3.5" fill="#9CBDE8" stroke="#6A9AD3" stroke-width="0.7" fill-opacity="0.9"/>
<circle cx="475.0" cy="422.0" r="3.5" fill="#9CBDE8" stroke="#6A9AD3" stroke-width="0.7" fill-opacity="0.9"/>
<circle cx="480.0" cy="428.0" r="3.5" fill="#9CBDE8" stroke="#6A9AD3" stroke-width="0.7" fill-opacity="0.9"/>
<circle cx="489.0" cy="423.0" r="3.5" fill="#9CBDE8" stroke="#6A9AD3" stroke-width="0.7" fill-opacity="0.9"/>
<circle cx="458.6" cy="428.1" r="3.45" fill="#4479C2" stroke="#24548F" stroke-width="0.85"/>
<circle cx="506.6" cy="430.6" r="3.45" fill="#4479C2" stroke="#24548F" stroke-width="0.85"/>
<circle cx="539.9" cy="429.3" r="3.45" fill="#4479C2" stroke="#24548F" stroke-width="0.85"/>
<circle cx="580.3" cy="427.9" r="3.45" fill="#4479C2" stroke="#24548F" stroke-width="0.85"/>
<circle cx="589.1" cy="428.9" r="3.45" fill="#4479C2" stroke="#24548F" stroke-width="0.85"/>
<circle cx="600.7" cy="428.6" r="3.45" fill="#4479C2" stroke="#24548F" stroke-width="0.85"/>
<polygon points="436.5,389.8 447.5,389.8 442.0,399.3" fill="#F3D56B" stroke="#2a2a2a" stroke-width="0.9" stroke-linejoin="miter"/>
<text x="442.0" y="396.07" font-size="7.6" text-anchor="middle" fill="#111">1</text>
<polygon points="472.4,424.6 483.9,424.6 478.2,434.2" fill="#F3D56B" stroke="#2a2a2a" stroke-width="0.9" stroke-linejoin="miter"/>
<text x="478.2" y="430.93600000000004" font-size="7.6" text-anchor="middle" fill="#111">4</text>
<polygon points="499.4,424.6 510.9,424.6 505.1,434.2" fill="#F3D56B" stroke="#2a2a2a" stroke-width="0.9" stroke-linejoin="miter"/>
<text x="505.1" y="430.93600000000004" font-size="7.6" text-anchor="middle" fill="#111">2</text>
<polygon points="512.9,424.6 524.4,424.6 518.6,434.2" fill="#F3D56B" stroke="#2a2a2a" stroke-width="0.9" stroke-linejoin="miter"/>
<text x="518.6" y="430.93600000000004" font-size="7.6" text-anchor="middle" fill="#111">3</text>
<rect x="662.80" y="52.71" width="5.10" height="69.19" fill="#5A89CF" stroke="#4A77BD" stroke-width="0.5"/>
<rect x="667.90" y="117.83" width="4.70" height="4.07" fill="#5A89CF" stroke="#4A77BD" stroke-width="0.5"/>
<line x1="759.8" y1="38.6" x2="759.8" y2="121.9" stroke="#9a9a9a" stroke-width="1.2"/>
<line x1="648.8" y1="121.9" x2="759.8" y2="121.9" stroke="#9a9a9a" stroke-width="1.2"/>
<line x1="759.8" y1="121.9" x2="763.5" y2="121.9" stroke="#9a9a9a" stroke-width="1"/>
<text x="765.0" y="125.7" font-size="11" text-anchor="start" fill="#838383">0</text>
<line x1="759.8" y1="101.55000000000001" x2="763.5" y2="101.55000000000001" stroke="#9a9a9a" stroke-width="1"/>
<text x="765.0" y="105.35000000000001" font-size="11" text-anchor="start" fill="#838383">5</text>
<line x1="759.8" y1="81.2" x2="763.5" y2="81.2" stroke="#9a9a9a" stroke-width="1"/>
<text x="765.0" y="85.0" font-size="11" text-anchor="start" fill="#838383">10</text>
<line x1="759.8" y1="60.85" x2="763.5" y2="60.85" stroke="#9a9a9a" stroke-width="1"/>
<text x="765.0" y="64.65" font-size="11" text-anchor="start" fill="#838383">15</text>
<line x1="759.8" y1="40.5" x2="763.5" y2="40.5" stroke="#9a9a9a" stroke-width="1"/>
<text x="765.0" y="44.3" font-size="11" text-anchor="start" fill="#838383">20</text>
<line x1="649.55" y1="121.9" x2="649.55" y2="125.4" stroke="#9a9a9a" stroke-width="1"/>
<line x1="663.3" y1="121.9" x2="663.3" y2="125.4" stroke="#9a9a9a" stroke-width="1"/>
<line x1="677.05" y1="121.9" x2="677.05" y2="125.4" stroke="#9a9a9a" stroke-width="1"/>
<line x1="690.8" y1="121.9" x2="690.8" y2="125.4" stroke="#9a9a9a" stroke-width="1"/>
<line x1="704.55" y1="121.9" x2="704.55" y2="125.4" stroke="#9a9a9a" stroke-width="1"/>
<line x1="718.3" y1="121.9" x2="718.3" y2="125.4" stroke="#9a9a9a" stroke-width="1"/>
<line x1="732.05" y1="121.9" x2="732.05" y2="125.4" stroke="#9a9a9a" stroke-width="1"/>
<line x1="745.8" y1="121.9" x2="745.8" y2="125.4" stroke="#9a9a9a" stroke-width="1"/>
<line x1="759.8" y1="121.9" x2="759.8" y2="125.4" stroke="#9a9a9a" stroke-width="1"/>
<text x="663.3" y="135.4" font-size="11" text-anchor="middle" fill="#838383">0</text>
<text x="690.8" y="135.4" font-size="11" text-anchor="middle" fill="#838383">2</text>
<text x="718.3" y="135.4" font-size="11" text-anchor="middle" fill="#838383">4</text>
<text x="745.8" y="135.4" font-size="11" text-anchor="middle" fill="#838383">6</text>
<text x="704.6" y="33.6" font-size="10.8" text-anchor="middle" fill="#838383" textLength="76" lengthAdjust="spacingAndGlyphs">KEA&#8722;4 521.51m</text>
<polygon points="659.2,38.4 671.6,38.4 665.4,48.2" fill="#F3D56B" stroke="#2a2a2a" stroke-width="0.9" stroke-linejoin="miter"/>
<text x="665.4" y="44.868" font-size="7.6" text-anchor="middle" fill="#111">1</text>
<rect x="660.3" y="59.4" width="9.6" height="9.6" fill="#fff" fill-opacity="0.85" stroke="#111" stroke-width="1.1"/>
<path d="M660.3 59.4L669.9 69.0M669.9 59.4L660.3 69.0" stroke="#111" stroke-width="0.9"/>
<circle cx="665.1" cy="81.2" r="4.5" fill="#fff" stroke="#111" stroke-width="1"/>
<path d="M660.6 81.2H669.6M665.1 76.7V85.7" stroke="#111" stroke-width="0.9"/>
<polygon points="665.1,92.0 669.8,96.7 665.1,101.4 660.4,96.7" fill="#5DBB6A" stroke="#222" stroke-width="0.9"/>
<path d="M680.8 43.3L674.4 43.3M676.7 45.1L674.4 43.3L676.7 41.5" fill="none" stroke="#838383" stroke-width="0.7"/>
<text x="684.0" y="46.0" font-size="8" text-anchor="start" fill="#838383">Bulk SF<tspan dy="2" font-size="5.5">s</tspan></text>
<path d="M680.8 64.2L674.4 64.2M676.7 66.0L674.4 64.2L676.7 62.4" fill="none" stroke="#838383" stroke-width="0.7"/>
<text x="682.0" y="67.0" font-size="8" text-anchor="start" fill="#838383" textLength="75.4" lengthAdjust="spacingAndGlyphs">MD Granular Texture</text>
<path d="M680.8 81.2L674.4 81.2M676.7 83.0L674.4 81.2L676.7 79.4" fill="none" stroke="#838383" stroke-width="0.7"/>
<text x="682.0" y="84.0" font-size="8" text-anchor="start" fill="#838383" textLength="73" lengthAdjust="spacingAndGlyphs">MD Layered Texture</text>
<path d="M680.8 96.7L674.4 96.7M676.7 98.5L674.4 96.7L676.7 94.9" fill="none" stroke="#838383" stroke-width="0.7"/>
<text x="684.0" y="99.5" font-size="8" text-anchor="start" fill="#838383" textLength="69.3" lengthAdjust="spacingAndGlyphs">Mean of SIMS data</text>
<rect x="667.40" y="237.02" width="4.70" height="2.67" fill="#5A89CF" stroke="#4A77BD" stroke-width="0.5"/>
<rect x="672.10" y="156.77" width="4.60" height="82.92" fill="#5A89CF" stroke="#4A77BD" stroke-width="0.5"/>
<rect x="676.70" y="234.35" width="4.70" height="5.35" fill="#5A89CF" stroke="#4A77BD" stroke-width="0.5"/>
<rect x="681.40" y="237.02" width="4.20" height="2.67" fill="#5A89CF" stroke="#4A77BD" stroke-width="0.5"/>
<rect x="685.60" y="231.67" width="4.60" height="8.02" fill="#5A89CF" stroke="#4A77BD" stroke-width="0.5"/>
<rect x="690.20" y="234.35" width="4.70" height="5.35" fill="#5A89CF" stroke="#4A77BD" stroke-width="0.5"/>
<rect x="694.90" y="237.02" width="4.60" height="2.67" fill="#5A89CF" stroke="#4A77BD" stroke-width="0.5"/>
<rect x="699.50" y="237.02" width="4.50" height="2.67" fill="#5A89CF" stroke="#4A77BD" stroke-width="0.5"/>
<line x1="759.8" y1="156.4" x2="759.8" y2="239.7" stroke="#9a9a9a" stroke-width="1.2"/>
<line x1="648.8" y1="239.7" x2="759.8" y2="239.7" stroke="#9a9a9a" stroke-width="1.2"/>
<line x1="759.8" y1="239.7" x2="763.5" y2="239.7" stroke="#9a9a9a" stroke-width="1"/>
<text x="765.0" y="243.5" font-size="11" text-anchor="start" fill="#838383">0</text>
<line x1="759.8" y1="212.95" x2="763.5" y2="212.95" stroke="#9a9a9a" stroke-width="1"/>
<text x="765.0" y="216.75" font-size="11" text-anchor="start" fill="#838383">10</text>
<line x1="759.8" y1="186.2" x2="763.5" y2="186.2" stroke="#9a9a9a" stroke-width="1"/>
<text x="765.0" y="190.0" font-size="11" text-anchor="start" fill="#838383">20</text>
<line x1="759.8" y1="159.45" x2="763.5" y2="159.45" stroke="#9a9a9a" stroke-width="1"/>
<text x="765.0" y="163.25" font-size="11" text-anchor="start" fill="#838383">30</text>
<line x1="649.55" y1="239.7" x2="649.55" y2="243.2" stroke="#9a9a9a" stroke-width="1"/>
<line x1="663.3" y1="239.7" x2="663.3" y2="243.2" stroke="#9a9a9a" stroke-width="1"/>
<line x1="677.05" y1="239.7" x2="677.05" y2="243.2" stroke="#9a9a9a" stroke-width="1"/>
<line x1="690.8" y1="239.7" x2="690.8" y2="243.2" stroke="#9a9a9a" stroke-width="1"/>
<line x1="704.55" y1="239.7" x2="704.55" y2="243.2" stroke="#9a9a9a" stroke-width="1"/>
<line x1="718.3" y1="239.7" x2="718.3" y2="243.2" stroke="#9a9a9a" stroke-width="1"/>
<line x1="732.05" y1="239.7" x2="732.05" y2="243.2" stroke="#9a9a9a" stroke-width="1"/>
<line x1="745.8" y1="239.7" x2="745.8" y2="243.2" stroke="#9a9a9a" stroke-width="1"/>
<line x1="759.8" y1="239.7" x2="759.8" y2="243.2" stroke="#9a9a9a" stroke-width="1"/>
<text x="663.3" y="253.2" font-size="11" text-anchor="middle" fill="#838383">0</text>
<text x="690.8" y="253.2" font-size="11" text-anchor="middle" fill="#838383">2</text>
<text x="718.3" y="253.2" font-size="11" text-anchor="middle" fill="#838383">4</text>
<text x="745.8" y="253.2" font-size="11" text-anchor="middle" fill="#838383">6</text>
<text x="704.6" y="151.60000000000002" font-size="10.8" text-anchor="middle" fill="#838383" textLength="86.7" lengthAdjust="spacingAndGlyphs">KEA&#8722;4 564.74m B</text>
<polygon points="693.1,156.6 705.5,156.6 699.3,166.4" fill="#F3D56B" stroke="#2a2a2a" stroke-width="0.9" stroke-linejoin="miter"/>
<text x="699.3" y="163.06799999999998" font-size="7.6" text-anchor="middle" fill="#111">2</text>
<rect x="668.9" y="178.3" width="9.6" height="9.6" fill="#fff" fill-opacity="0.85" stroke="#111" stroke-width="1.1"/>
<path d="M668.9 178.3L678.5 187.9M678.5 178.3L668.9 187.9" stroke="#111" stroke-width="0.9"/>
<polygon points="676.7,210.5 681.4,215.2 676.7,219.9 672.0,215.2" fill="#5DBB6A" stroke="#222" stroke-width="0.9"/>
<rect x="667.40" y="296.18" width="4.70" height="60.72" fill="#5A89CF" stroke="#4A77BD" stroke-width="0.5"/>
<rect x="672.10" y="301.70" width="4.60" height="55.20" fill="#5A89CF" stroke="#4A77BD" stroke-width="0.5"/>
<rect x="676.70" y="340.34" width="4.70" height="16.56" fill="#5A89CF" stroke="#4A77BD" stroke-width="0.5"/>
<rect x="681.40" y="345.86" width="4.20" height="11.04" fill="#5A89CF" stroke="#4A77BD" stroke-width="0.5"/>
<rect x="685.60" y="340.34" width="4.60" height="16.56" fill="#5A89CF" stroke="#4A77BD" stroke-width="0.5"/>
<rect x="690.20" y="351.38" width="4.70" height="5.52" fill="#5A89CF" stroke="#4A77BD" stroke-width="0.5"/>
<rect x="708.10" y="345.86" width="4.70" height="11.04" fill="#5A89CF" stroke="#4A77BD" stroke-width="0.5"/>
<rect x="717.00" y="345.86" width="4.60" height="11.04" fill="#5A89CF" stroke="#4A77BD" stroke-width="0.5"/>
<rect x="730.20" y="351.38" width="4.70" height="5.52" fill="#5A89CF" stroke="#4A77BD" stroke-width="0.5"/>
<rect x="734.90" y="351.38" width="4.60" height="5.52" fill="#5A89CF" stroke="#4A77BD" stroke-width="0.5"/>
<rect x="739.50" y="351.38" width="4.20" height="5.52" fill="#5A89CF" stroke="#4A77BD" stroke-width="0.5"/>
<rect x="743.70" y="323.78" width="4.70" height="33.12" fill="#5A89CF" stroke="#4A77BD" stroke-width="0.5"/>
<line x1="759.8" y1="273.1" x2="759.8" y2="356.9" stroke="#9a9a9a" stroke-width="1.2"/>
<line x1="648.8" y1="356.9" x2="759.8" y2="356.9" stroke="#9a9a9a" stroke-width="1.2"/>
<line x1="759.8" y1="356.9" x2="763.5" y2="356.9" stroke="#9a9a9a" stroke-width="1"/>
<text x="765.0" y="360.7" font-size="11" text-anchor="start" fill="#838383">0</text>
<line x1="759.8" y1="329.29999999999995" x2="763.5" y2="329.29999999999995" stroke="#9a9a9a" stroke-width="1"/>
<text x="765.0" y="333.09999999999997" font-size="11" text-anchor="start" fill="#838383">5</text>
<line x1="759.8" y1="301.7" x2="763.5" y2="301.7" stroke="#9a9a9a" stroke-width="1"/>
<text x="765.0" y="305.5" font-size="11" text-anchor="start" fill="#838383">10</text>
<line x1="759.8" y1="274.09999999999997" x2="763.5" y2="274.09999999999997" stroke="#9a9a9a" stroke-width="1"/>
<text x="765.0" y="277.9" font-size="11" text-anchor="start" fill="#838383">15</text>
<line x1="649.55" y1="356.9" x2="649.55" y2="360.4" stroke="#9a9a9a" stroke-width="1"/>
<line x1="663.3" y1="356.9" x2="663.3" y2="360.4" stroke="#9a9a9a" stroke-width="1"/>
<line x1="677.05" y1="356.9" x2="677.05" y2="360.4" stroke="#9a9a9a" stroke-width="1"/>
<line x1="690.8" y1="356.9" x2="690.8" y2="360.4" stroke="#9a9a9a" stroke-width="1"/>
<line x1="704.55" y1="356.9" x2="704.55" y2="360.4" stroke="#9a9a9a" stroke-width="1"/>
<line x1="718.3" y1="356.9" x2="718.3" y2="360.4" stroke="#9a9a9a" stroke-width="1"/>
<line x1="732.05" y1="356.9" x2="732.05" y2="360.4" stroke="#9a9a9a" stroke-width="1"/>
<line x1="745.8" y1="356.9" x2="745.8" y2="360.4" stroke="#9a9a9a" stroke-width="1"/>
<line x1="759.8" y1="356.9" x2="759.8" y2="360.4" stroke="#9a9a9a" stroke-width="1"/>
<text x="663.3" y="370.4" font-size="11" text-anchor="middle" fill="#838383">0</text>
<text x="690.8" y="370.4" font-size="11" text-anchor="middle" fill="#838383">2</text>
<text x="718.3" y="370.4" font-size="11" text-anchor="middle" fill="#838383">4</text>
<text x="745.8" y="370.4" font-size="11" text-anchor="middle" fill="#838383">6</text>
<text x="704.6" y="268.6" font-size="10.8" text-anchor="middle" fill="#838383" textLength="86.7" lengthAdjust="spacingAndGlyphs">KEA&#8722;4 564.74m A</text>
<polygon points="700.1,274.2 712.5,274.2 706.3,284.0" fill="#F3D56B" stroke="#2a2a2a" stroke-width="0.9" stroke-linejoin="miter"/>
<text x="706.3" y="280.668" font-size="7.6" text-anchor="middle" fill="#111">3</text>
<circle cx="706.3" cy="315.5" r="4.5" fill="#fff" stroke="#111" stroke-width="1"/>
<path d="M701.8 315.5H710.8M706.3 311.0V320.0" stroke="#111" stroke-width="0.9"/>
<polygon points="693.5,327.5 698.2,332.2 693.5,336.9 688.8,332.2" fill="#5DBB6A" stroke="#222" stroke-width="0.9"/>
<rect x="667.40" y="470.48" width="4.70" height="3.32" fill="#5A89CF" stroke="#4A77BD" stroke-width="0.5"/>
<rect x="672.10" y="467.16" width="4.60" height="6.64" fill="#5A89CF" stroke="#4A77BD" stroke-width="0.5"/>
<rect x="676.70" y="417.36" width="4.70" height="56.44" fill="#5A89CF" stroke="#4A77BD" stroke-width="0.5"/>
<rect x="681.40" y="440.60" width="4.20" height="33.20" fill="#5A89CF" stroke="#4A77BD" stroke-width="0.5"/>
<rect x="685.60" y="470.48" width="4.60" height="3.32" fill="#5A89CF" stroke="#4A77BD" stroke-width="0.5"/>
<rect x="690.20" y="470.48" width="4.70" height="3.32" fill="#5A89CF" stroke="#4A77BD" stroke-width="0.5"/>
<rect x="694.90" y="470.48" width="4.60" height="3.32" fill="#5A89CF" stroke="#4A77BD" stroke-width="0.5"/>
<rect x="734.90" y="470.48" width="4.60" height="3.32" fill="#5A89CF" stroke="#4A77BD" stroke-width="0.5"/>
<rect x="748.10" y="470.48" width="4.70" height="3.32" fill="#5A89CF" stroke="#4A77BD" stroke-width="0.5"/>
<line x1="759.8" y1="390.8" x2="759.8" y2="473.8" stroke="#9a9a9a" stroke-width="1.2"/>
<line x1="648.8" y1="473.8" x2="759.8" y2="473.8" stroke="#9a9a9a" stroke-width="1.2"/>
<line x1="759.8" y1="473.8" x2="763.5" y2="473.8" stroke="#9a9a9a" stroke-width="1"/>
<text x="765.0" y="477.6" font-size="11" text-anchor="start" fill="#838383">0</text>
<line x1="759.8" y1="457.2" x2="763.5" y2="457.2" stroke="#9a9a9a" stroke-width="1"/>
<text x="765.0" y="461.0" font-size="11" text-anchor="start" fill="#838383">5</text>
<line x1="759.8" y1="440.6" x2="763.5" y2="440.6" stroke="#9a9a9a" stroke-width="1"/>
<text x="765.0" y="444.40000000000003" font-size="11" text-anchor="start" fill="#838383">10</text>
<line x1="759.8" y1="424.0" x2="763.5" y2="424.0" stroke="#9a9a9a" stroke-width="1"/>
<text x="765.0" y="427.8" font-size="11" text-anchor="start" fill="#838383">15</text>
<line x1="759.8" y1="407.40000000000003" x2="763.5" y2="407.40000000000003" stroke="#9a9a9a" stroke-width="1"/>
<text x="765.0" y="411.20000000000005" font-size="11" text-anchor="start" fill="#838383">20</text>
<line x1="759.8" y1="390.8" x2="763.5" y2="390.8" stroke="#9a9a9a" stroke-width="1"/>
<text x="765.0" y="394.6" font-size="11" text-anchor="start" fill="#838383">25</text>
<line x1="649.55" y1="473.8" x2="649.55" y2="477.3" stroke="#9a9a9a" stroke-width="1"/>
<line x1="663.3" y1="473.8" x2="663.3" y2="477.3" stroke="#9a9a9a" stroke-width="1"/>
<line x1="677.05" y1="473.8" x2="677.05" y2="477.3" stroke="#9a9a9a" stroke-width="1"/>
<line x1="690.8" y1="473.8" x2="690.8" y2="477.3" stroke="#9a9a9a" stroke-width="1"/>
<line x1="704.55" y1="473.8" x2="704.55" y2="477.3" stroke="#9a9a9a" stroke-width="1"/>
<line x1="718.3" y1="473.8" x2="718.3" y2="477.3" stroke="#9a9a9a" stroke-width="1"/>
<line x1="732.05" y1="473.8" x2="732.05" y2="477.3" stroke="#9a9a9a" stroke-width="1"/>
<line x1="745.8" y1="473.8" x2="745.8" y2="477.3" stroke="#9a9a9a" stroke-width="1"/>
<line x1="759.8" y1="473.8" x2="759.8" y2="477.3" stroke="#9a9a9a" stroke-width="1"/>
<text x="663.3" y="487.3" font-size="11" text-anchor="middle" fill="#838383">0</text>
<text x="690.8" y="487.3" font-size="11" text-anchor="middle" fill="#838383">2</text>
<text x="718.3" y="487.3" font-size="11" text-anchor="middle" fill="#838383">4</text>
<text x="745.8" y="487.3" font-size="11" text-anchor="middle" fill="#838383">6</text>
<text x="704.6" y="386.2" font-size="10.8" text-anchor="middle" fill="#838383" textLength="76" lengthAdjust="spacingAndGlyphs">KEA&#8722;4 565.70m</text>
<polygon points="678.3,391.3 690.7,391.3 684.5,401.1" fill="#F3D56B" stroke="#2a2a2a" stroke-width="0.9" stroke-linejoin="miter"/>
<text x="684.5" y="397.76800000000003" font-size="7.6" text-anchor="middle" fill="#111">4</text>
<rect x="679.9" y="411.6" width="9.6" height="9.6" fill="#fff" fill-opacity="0.85" stroke="#111" stroke-width="1.1"/>
<path d="M679.9 411.6L689.5 421.2M689.5 411.6L679.9 421.2" stroke="#111" stroke-width="0.9"/>
<circle cx="724.2" cy="432.7" r="4.5" fill="#fff" stroke="#111" stroke-width="1"/>
<path d="M719.7 432.7H728.7M724.2 428.2V437.2" stroke="#111" stroke-width="0.9"/>
<polygon points="684.7,444.7 689.4,449.4 684.7,454.1 680.0,449.4" fill="#5DBB6A" stroke="#222" stroke-width="0.9"/>
<text x="786.2" y="287.3" font-size="12.8" text-anchor="middle" fill="#838383" transform="rotate(90 786.2 287.3)" textLength="154" lengthAdjust="spacingAndGlyphs">Number of SIMS Analyses</text>
<text x="715.4" y="502.3" font-size="14" text-anchor="middle" fill="#838383" textLength="53" lengthAdjust="spacingAndGlyphs" stroke="#838383" stroke-width="0.2">&#916;<tspan dy="-5" font-size="10">33</tspan><tspan dy="5">S (&#8240;)</tspan></text>
<rect x="190.60" y="485.50" width="414.70" height="29.60" fill="#fff" stroke="#cfcfcf" stroke-width="0.8"/>
<rect x="228.90" y="488.80" width="8.60" height="8.60" fill="#1FB0E0" stroke="#1a4d60" stroke-width="0.9"/>
<path d="M228.9 493.1H237.5M233.2 488.8V497.40000000000003" stroke="#1784a8" stroke-width="0.6"/>
<text x="241.8" y="496.7" font-size="10.8" text-anchor="start" fill="#1a1a1a" textLength="99.2" lengthAdjust="spacingAndGlyphs">Malmani carbonates</text>
<rect x="345.50" y="488.80" width="8.60" height="8.60" fill="#b9b9b9" stroke="#555" stroke-width="0.9"/>
<path d="M345.5 491.7H354.1M345.5 494.5H354.1M348.4 488.8V497.40000000000003M351.2 488.8V497.40000000000003" stroke="#808080" stroke-width="0.5"/>
<text x="359.9" y="496.7" font-size="10.8" text-anchor="start" fill="#1a1a1a" textLength="63.8" lengthAdjust="spacingAndGlyphs">Chert breccia</text>
<rect x="429.10" y="488.80" width="8.60" height="8.60" fill="#B847A8" stroke="#4a1f44" stroke-width="0.9"/>
<text x="442.9" y="496.7" font-size="10.8" text-anchor="start" fill="#1a1a1a" textLength="26.3" lengthAdjust="spacingAndGlyphs">Chert</text>
<rect x="475.30" y="488.80" width="8.60" height="8.60" fill="#F8F09A" stroke="#555" stroke-width="0.9"/>
<text x="489.9" y="496.7" font-size="10.8" text-anchor="start" fill="#1a1a1a" textLength="75.4" lengthAdjust="spacingAndGlyphs">Quartzite (Qtzt)</text>
<rect x="192.80" y="503.60" width="8.60" height="8.60" fill="#3DB046" stroke="#1e5c22" stroke-width="0.9"/>
<text x="206.6" y="511.5" font-size="10.8" text-anchor="start" fill="#1a1a1a" textLength="36.6" lengthAdjust="spacingAndGlyphs">Diabase</text>
<rect x="248.50" y="503.60" width="8.60" height="8.60" fill="#808080" stroke="#333" stroke-width="0.9"/>
<text x="260.9" y="511.5" font-size="10.8" text-anchor="start" fill="#1a1a1a" textLength="115.8" lengthAdjust="spacingAndGlyphs">Interbedded silt &amp; shale</text>
<rect x="382.20" y="503.60" width="8.60" height="8.60" fill="#1c1c1c" stroke="#111" stroke-width="0.9"/>
<text x="395.2" y="511.5" font-size="10.8" text-anchor="start" fill="#1a1a1a" textLength="205.9" lengthAdjust="spacingAndGlyphs">Carbonaceous shale with siltstone laminae</text>
</svg>
</body></html>
